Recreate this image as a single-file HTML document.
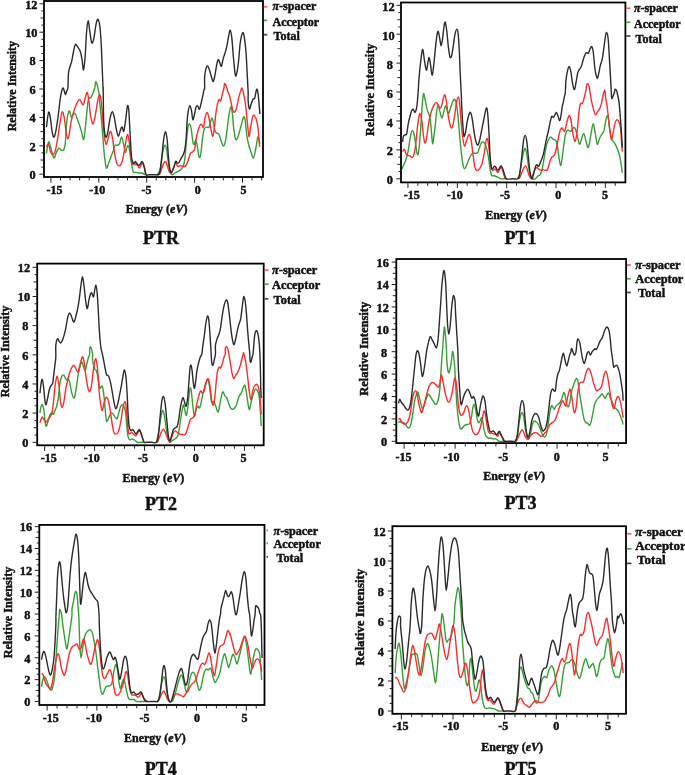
<!DOCTYPE html><html><head><meta charset="utf-8"><style>html,body{margin:0;padding:0;background:#fff;width:685px;height:775px;overflow:hidden}svg{display:block}#w{will-change:transform;width:685px;height:775px}text{font-family:"Liberation Serif",serif;font-weight:bold;fill:#111;stroke:#111;stroke-width:0.45px}</style></head><body>
<div id="w"><svg width="685" height="775" viewBox="0 0 685 775">
<g><clipPath id="c0"><rect x="44.0" y="1.0" width="219.0" height="176.0"/></clipPath><path d="M46.45 153.40 C46.81 151.49 47.90 143.05 48.58 141.96 C49.26 140.87 49.67 144.19 50.54 146.86 C51.41 149.53 52.86 157.03 53.81 157.98 C54.76 158.93 55.39 154.22 56.26 152.58 C57.13 150.95 58.22 148.58 59.04 148.17 C59.86 147.76 60.40 149.86 61.17 150.13 C61.93 150.40 62.94 150.89 63.62 149.80 C64.30 148.71 64.71 148.44 65.26 143.59 C65.80 138.74 66.21 126.15 66.89 120.70 C67.57 115.25 68.58 111.44 69.34 110.89 C70.11 110.35 70.79 116.89 71.47 117.43 C72.15 117.98 72.83 114.84 73.43 114.16 C74.03 113.48 74.52 112.80 75.07 113.34 C75.61 113.89 76.02 115.66 76.70 117.43 C77.38 119.20 78.34 121.52 79.15 123.97 C79.97 126.42 80.87 129.56 81.61 132.15 C82.34 134.73 82.97 140.05 83.57 139.50 C84.17 138.96 84.66 133.37 85.20 128.88 C85.75 124.38 86.29 117.57 86.84 112.53 C87.38 107.48 87.85 101.08 88.47 98.63 C89.10 96.18 89.89 98.63 90.60 97.81 C91.31 96.99 92.04 95.36 92.72 93.72 C93.41 92.09 94.14 90.00 94.69 88.00 C95.23 86.00 95.31 81.08 95.99 81.75 C96.68 82.43 98.17 88.83 98.77 92.05 C99.37 95.27 99.18 96.85 99.59 101.08 C100.00 105.31 100.68 111.44 101.23 117.43 C101.77 123.43 102.32 130.51 102.86 137.05 C103.41 143.59 103.90 151.49 104.50 156.67 C105.10 161.85 105.78 167.03 106.46 168.12 C107.14 169.21 107.82 165.12 108.58 163.21 C109.35 161.30 110.22 158.85 111.04 156.67 C111.85 154.49 112.81 152.04 113.49 150.13 C114.17 148.22 114.44 146.04 115.12 145.23 C115.81 144.41 116.84 145.50 117.58 145.23 C118.31 144.95 118.86 144.95 119.54 143.59 C120.22 142.23 120.96 136.78 121.66 137.05 C122.37 137.32 123.16 142.64 123.79 145.23 C124.42 147.82 124.83 152.45 125.42 152.58 C126.02 152.72 126.79 146.86 127.39 146.04 C127.99 145.23 128.48 145.64 129.02 147.68 C129.57 149.72 129.98 154.36 130.66 158.31 C131.34 162.26 132.29 169.07 133.11 171.39 C133.93 173.70 134.61 171.93 135.56 172.20 C136.52 172.48 137.74 172.89 138.83 173.02 C139.92 173.16 141.01 172.73 142.10 173.02 C143.19 173.32 144.28 174.50 145.37 174.80 M148.64 174.80 M152.00 174.80 M156.91 174.80 C158.13 174.23 158.68 173.05 159.36 171.39 C160.04 169.73 160.37 168.39 160.99 164.85 C161.62 161.30 162.44 153.40 163.12 150.13 C163.80 146.86 164.48 145.23 165.08 145.23 C165.68 145.23 166.17 147.13 166.72 150.13 C167.26 153.13 167.75 159.53 168.35 163.21 C168.95 166.89 169.63 170.27 170.31 172.20 C170.99 174.14 171.67 174.66 172.44 174.80 C173.20 174.94 173.94 173.59 174.89 173.02 C175.84 172.45 177.21 171.93 178.16 171.39 C179.11 170.84 179.80 170.57 180.61 169.75 C181.43 168.93 182.38 168.12 183.07 166.48 C183.75 164.85 184.16 164.03 184.70 159.94 C185.25 155.85 185.79 147.41 186.34 141.96 C186.88 136.51 187.43 130.24 187.97 127.24 C188.52 124.24 189.06 123.70 189.61 123.97 C190.15 124.24 190.70 125.88 191.24 128.88 C191.79 131.87 192.39 139.37 192.88 141.96 C193.37 144.55 193.69 144.68 194.18 144.41 C194.67 144.14 195.27 139.91 195.82 140.32 C196.36 140.73 196.99 144.41 197.45 146.86 C197.92 149.31 198.19 153.27 198.60 155.04 C199.01 156.81 199.50 158.03 199.91 157.49 C200.32 156.94 200.59 155.17 201.05 151.77 C201.51 148.36 202.14 140.87 202.69 137.05 C203.23 133.24 203.64 130.51 204.32 128.88 C205.00 127.24 205.96 127.57 206.77 127.24 C207.59 126.91 208.41 128.41 209.23 126.91 C210.04 125.42 211.00 119.01 211.68 118.25 C212.36 117.49 212.77 120.29 213.31 122.34 C213.86 124.38 214.40 128.74 214.95 130.51 C215.49 132.28 215.90 132.28 216.58 132.96 C217.27 133.64 218.22 133.10 219.04 134.60 C219.85 136.10 220.73 140.05 221.49 141.96 C222.25 143.86 222.93 146.32 223.61 146.04 C224.30 145.77 224.98 143.18 225.58 140.32 C226.18 137.46 226.67 132.96 227.21 128.88 C227.76 124.79 228.25 119.47 228.85 115.80 C229.45 112.12 230.21 107.08 230.81 106.80 C231.41 106.53 231.95 110.48 232.44 114.16 C232.93 117.84 233.21 124.65 233.75 128.88 C234.30 133.10 235.03 138.14 235.71 139.50 C236.40 140.87 237.08 138.82 237.84 137.05 C238.60 135.28 239.34 132.20 240.29 128.88 C241.25 125.55 242.74 118.47 243.56 117.10 C244.38 115.74 244.65 117.65 245.20 120.70 C245.74 123.75 246.23 131.33 246.83 135.42 C247.43 139.50 248.11 142.50 248.79 145.23 C249.48 147.95 250.16 149.64 250.92 151.77 C251.68 153.89 252.55 158.52 253.37 157.98 C254.19 157.43 255.06 151.98 255.82 148.50 C256.59 145.01 257.27 137.87 257.95 137.05 C258.63 136.23 259.59 142.50 259.91 143.59" fill="none" stroke="#33a033" stroke-width="1.4" stroke-linejoin="round" clip-path="url(#c0)"/><path d="M46.45 146.86 C46.81 146.45 47.90 143.59 48.58 144.41 C49.26 145.23 49.80 150.05 50.54 151.77 C51.28 153.48 52.18 154.98 52.99 154.71 C53.81 154.44 54.63 153.07 55.45 150.13 C56.26 147.19 57.08 141.96 57.90 137.05 C58.72 132.15 59.61 124.92 60.35 120.70 C61.09 116.48 61.63 111.98 62.31 111.71 C62.99 111.44 63.81 115.66 64.44 119.07 C65.06 122.47 65.53 128.88 66.07 132.15 C66.62 135.42 67.16 138.41 67.71 138.69 C68.25 138.96 68.80 136.51 69.34 133.78 C69.89 131.06 70.30 125.88 70.98 122.34 C71.66 118.79 72.48 115.66 73.43 112.53 C74.38 109.39 75.67 105.71 76.70 103.53 C77.74 101.35 78.77 99.45 79.64 99.45 C80.52 99.45 81.28 102.72 81.93 103.53 C82.59 104.35 82.94 105.58 83.57 104.35 C84.19 103.12 85.07 98.14 85.69 96.18 C86.32 94.21 86.78 91.76 87.33 92.58 C87.87 93.40 88.42 97.21 88.96 101.08 C89.51 104.95 89.92 111.98 90.60 115.80 C91.28 119.61 92.23 124.24 93.05 123.97 C93.87 123.70 94.74 117.98 95.50 114.16 C96.27 110.35 96.95 104.35 97.63 101.08 C98.31 97.81 98.99 94.54 99.59 94.54 C100.19 94.54 100.68 96.72 101.23 101.08 C101.77 105.44 102.32 114.71 102.86 120.70 C103.41 126.70 103.95 133.10 104.50 137.05 C105.04 141.00 105.53 144.14 106.13 144.41 C106.73 144.68 107.41 140.87 108.09 138.69 C108.77 136.51 109.51 131.60 110.22 131.33 C110.93 131.06 111.66 133.64 112.34 137.05 C113.03 140.46 113.57 147.41 114.31 151.77 C115.04 156.13 116.00 160.90 116.76 163.21 C117.52 165.53 118.20 165.39 118.88 165.66 C119.57 165.94 120.11 166.35 120.85 164.85 C121.58 163.35 122.48 160.49 123.30 156.67 C124.12 152.86 125.07 145.64 125.75 141.96 C126.43 138.28 126.84 134.87 127.39 134.60 C127.93 134.33 128.48 137.19 129.02 140.32 C129.57 143.45 130.11 149.59 130.66 153.40 C131.20 157.22 131.61 161.30 132.29 163.21 C132.97 165.12 133.93 164.85 134.74 164.85 C135.56 164.85 136.46 162.67 137.20 163.21 C137.93 163.76 138.48 167.84 139.16 168.12 C139.84 168.39 140.66 165.80 141.28 164.85 C141.91 163.89 142.37 161.85 142.92 162.39 C143.46 162.94 144.01 166.05 144.55 168.12 C145.10 170.18 144.95 173.69 146.19 174.80 M152.00 174.80 M156.91 174.80 M159.36 174.80 C160.18 173.69 161.07 170.05 161.81 168.12 C162.55 166.19 163.15 164.30 163.77 163.21 C164.40 162.12 164.94 161.03 165.57 161.58 C166.20 162.12 166.93 164.85 167.53 166.48 C168.13 168.12 168.54 170.30 169.17 171.39 C169.79 172.48 170.61 173.57 171.29 173.02 C171.97 172.48 172.52 169.75 173.26 168.12 C173.99 166.48 174.95 163.48 175.71 163.21 C176.47 162.94 177.10 166.07 177.83 166.48 C178.57 166.89 179.39 165.72 180.12 165.66 C180.86 165.61 181.49 166.02 182.25 166.15 C183.01 166.29 184.02 166.70 184.70 166.48 C185.38 166.26 185.74 165.94 186.34 164.85 C186.94 163.76 187.62 161.85 188.30 159.94 C188.98 158.03 189.66 154.76 190.42 153.40 C191.19 152.04 192.14 152.58 192.88 151.77 C193.61 150.95 194.29 150.68 194.84 148.50 C195.38 146.32 195.60 141.68 196.15 138.69 C196.69 135.69 197.43 132.83 198.11 130.51 C198.79 128.19 199.61 125.74 200.23 124.79 C200.86 123.83 201.32 124.38 201.87 124.79 C202.41 125.20 202.96 128.47 203.50 127.24 C204.05 126.01 204.51 119.88 205.14 117.43 C205.77 114.98 206.58 112.25 207.26 112.53 C207.95 112.80 208.63 116.34 209.23 119.07 C209.83 121.79 210.26 126.01 210.86 128.88 C211.46 131.74 212.22 136.51 212.82 136.23 C213.42 135.96 213.97 130.92 214.46 127.24 C214.95 123.56 215.28 117.98 215.77 114.16 C216.26 110.35 216.86 106.80 217.40 104.35 C217.95 101.90 218.49 99.99 219.04 99.45 C219.58 98.90 220.13 101.90 220.67 101.08 C221.22 100.26 221.76 96.72 222.31 94.54 C222.85 92.36 223.53 89.86 223.94 88.00 C224.35 86.14 224.27 83.34 224.76 83.39 C225.25 83.44 226.34 86.85 226.88 88.29 C227.43 89.74 227.57 90.74 228.03 92.05 C228.49 93.37 228.98 93.58 229.66 96.18 C230.35 98.77 231.44 104.95 232.12 107.62 C232.80 110.29 233.07 111.93 233.75 112.20 C234.43 112.47 235.39 111.65 236.20 109.26 C237.02 106.86 237.84 101.08 238.66 97.81 C239.47 94.54 240.56 91.27 241.11 89.64 C241.65 88.00 241.57 87.60 241.93 88.00 C242.28 88.40 242.64 89.33 243.24 92.05 C243.83 94.78 244.87 99.58 245.52 104.35 C246.18 109.13 246.67 115.93 247.16 120.70 C247.65 125.47 248.11 130.37 248.47 132.96 C248.82 135.55 248.88 137.46 249.28 136.23 C249.69 135.01 250.29 129.01 250.92 125.61 C251.55 122.20 252.36 117.29 253.05 115.80 C253.73 114.30 254.41 115.80 255.01 116.61 C255.61 117.43 256.10 118.38 256.64 120.70 C257.19 123.02 257.79 126.15 258.28 130.51 C258.77 134.87 259.37 144.14 259.59 146.86" fill="none" stroke="#ff2a2a" stroke-width="1.4" stroke-linejoin="round" clip-path="url(#c0)"/><path d="M46.45 127.24 C46.81 124.73 47.90 113.56 48.58 112.20 C49.26 110.84 49.94 115.74 50.54 119.07 C51.14 122.39 51.58 129.15 52.18 132.15 C52.77 135.14 53.46 137.60 54.14 137.05 C54.82 136.51 55.55 132.69 56.26 128.88 C56.97 125.06 57.71 119.34 58.39 114.16 C59.07 108.98 59.75 101.84 60.35 97.81 C60.95 93.78 61.49 91.60 61.99 89.96 C62.48 88.33 62.88 87.73 63.29 88.00 C63.70 88.27 64.06 90.51 64.44 91.60 C64.82 92.69 65.17 94.73 65.58 94.54 C65.99 94.35 66.51 91.54 66.89 90.45 C67.27 89.36 67.60 90.95 67.87 88.00 C68.14 85.05 68.14 76.39 68.53 72.76 C68.91 69.13 69.62 68.21 70.16 66.22 C70.71 64.23 71.25 63.19 71.80 60.82 C72.34 58.45 72.83 54.72 73.43 51.99 C74.03 49.27 74.66 45.29 75.39 44.47 C76.13 43.66 77.03 45.92 77.85 47.09 C78.66 48.26 79.62 49.54 80.30 51.50 C80.98 53.47 81.39 55.78 81.93 58.86 C82.48 61.94 83.02 70.52 83.57 69.98 C84.11 69.43 84.71 61.80 85.20 55.59 C85.69 49.38 86.02 38.48 86.51 32.70 C87.00 26.92 87.60 21.20 88.15 20.93 C88.69 20.66 89.18 27.41 89.78 31.07 C90.38 34.72 91.06 41.61 91.74 42.84 C92.42 44.06 93.16 41.48 93.87 38.42 C94.58 35.37 95.31 27.71 95.99 24.53 C96.68 21.34 97.30 18.88 97.96 19.29 C98.61 19.70 99.37 22.84 99.92 26.98 C100.46 31.12 100.82 36.65 101.23 44.15 C101.64 51.64 102.04 63.96 102.37 71.94 C102.70 79.93 103.05 89.38 103.19 92.05 C103.32 94.73 103.11 83.23 103.19 88.00 C103.27 92.77 103.41 113.07 103.68 120.70 C103.95 128.33 104.36 131.06 104.82 133.78 C105.29 136.51 105.91 137.60 106.46 137.05 C107.00 136.51 107.47 133.78 108.09 130.51 C108.72 127.24 109.51 120.56 110.22 117.43 C110.93 114.30 111.66 111.71 112.34 111.71 C113.03 111.71 113.65 114.57 114.31 117.43 C114.96 120.29 115.59 125.74 116.27 128.88 C116.95 132.01 117.69 136.10 118.39 136.23 C119.10 136.37 119.89 131.25 120.52 129.69 C121.15 128.14 121.61 126.64 122.15 126.91 C122.70 127.19 123.19 132.64 123.79 131.33 C124.39 130.02 125.15 123.24 125.75 119.07 C126.35 114.90 126.90 107.95 127.39 106.31 C127.88 104.68 128.29 105.49 128.69 109.26 C129.10 113.02 129.38 120.97 129.84 128.88 C130.30 136.78 130.85 150.95 131.47 156.67 C132.10 162.39 132.92 162.39 133.60 163.21 C134.28 164.03 134.96 161.30 135.56 161.58 C136.16 161.85 136.52 164.30 137.20 164.85 C137.88 165.39 138.83 165.39 139.65 164.85 C140.47 164.30 141.37 161.30 142.10 161.58 C142.84 161.85 143.38 164.28 144.06 166.48 C144.75 168.69 145.43 173.41 146.19 174.80 C146.95 176.19 147.01 174.80 148.64 174.80 C150.28 174.80 154.35 174.80 156.00 174.80 C157.65 174.80 157.84 175.51 158.54 174.80 C159.24 174.09 159.63 173.59 160.18 170.57 C160.72 167.55 161.21 161.99 161.81 156.67 C162.41 151.36 163.15 142.83 163.77 138.69 C164.40 134.54 165.00 131.55 165.57 131.82 C166.14 132.09 166.69 135.63 167.21 140.32 C167.72 145.01 168.16 154.76 168.68 159.94 C169.20 165.12 169.82 169.34 170.31 171.39 C170.80 173.43 171.08 172.75 171.62 172.20 C172.17 171.66 172.90 169.94 173.58 168.12 C174.26 166.29 175.08 162.07 175.71 161.25 C176.33 160.43 176.80 163.02 177.34 163.21 C177.89 163.40 178.35 163.21 178.98 162.39 C179.60 161.58 180.42 159.53 181.10 158.31 C181.78 157.08 182.47 156.40 183.07 155.04 C183.67 153.67 184.21 152.58 184.70 150.13 C185.19 147.68 185.60 145.23 186.01 140.32 C186.42 135.42 186.77 125.61 187.15 120.70 C187.53 115.80 187.83 113.40 188.30 110.89 C188.76 108.38 189.39 105.66 189.93 105.66 C190.48 105.66 191.08 108.52 191.57 110.89 C192.06 113.26 192.33 119.61 192.88 119.88 C193.42 120.16 194.29 114.71 194.84 112.53 C195.38 110.35 195.66 107.89 196.15 106.80 C196.64 105.71 197.24 105.58 197.78 105.99 C198.33 106.39 198.87 109.66 199.42 109.26 C199.96 108.85 200.51 105.71 201.05 103.53 C201.60 101.35 202.20 98.49 202.69 96.18 C203.18 93.86 203.67 91.00 203.99 89.64 C204.32 88.27 204.54 90.13 204.65 88.00 C204.76 85.87 204.43 80.07 204.65 76.85 C204.87 73.63 205.47 70.50 205.96 68.67 C206.45 66.85 206.99 65.62 207.59 65.89 C208.19 66.16 208.87 68.34 209.55 70.31 C210.23 72.27 211.05 75.81 211.68 77.66 C212.31 79.52 212.77 81.83 213.31 81.42 C213.86 81.02 214.40 77.88 214.95 75.21 C215.49 72.54 216.04 67.99 216.58 65.40 C217.13 62.81 217.67 60.09 218.22 59.68 C218.76 59.27 219.31 61.86 219.85 62.95 C220.40 64.04 220.94 66.90 221.49 66.22 C222.03 65.54 222.50 61.18 223.12 58.86 C223.75 56.55 224.62 54.50 225.25 52.32 C225.88 50.14 226.34 48.37 226.88 45.78 C227.43 43.19 227.97 39.38 228.52 36.79 C229.06 34.20 229.61 30.11 230.15 30.25 C230.70 30.38 231.24 33.11 231.79 37.61 C232.33 42.10 232.83 50.96 233.42 57.23 C234.02 63.49 234.79 72.76 235.39 75.21 C235.99 77.66 236.48 74.39 237.02 71.94 C237.57 69.49 238.11 65.40 238.66 60.50 C239.20 55.59 239.61 47.14 240.29 42.51 C240.97 37.88 242.06 33.52 242.74 32.70 C243.43 31.88 243.83 34.34 244.38 37.61 C244.92 40.88 245.55 46.33 246.01 52.32 C246.48 58.32 246.80 66.95 247.16 73.58 C247.51 80.20 247.98 87.47 248.14 92.05 C248.30 96.64 247.92 98.27 248.14 101.08 C248.36 103.89 248.96 108.38 249.45 108.93 C249.94 109.47 250.48 105.99 251.08 104.35 C251.68 102.72 252.45 100.15 253.05 99.12 C253.64 98.08 254.08 99.77 254.68 98.14 C255.28 96.50 256.10 90.18 256.64 89.31 C257.19 88.44 257.54 90.40 257.95 92.91 C258.36 95.41 258.77 100.81 259.09 104.35 C259.42 107.89 259.78 112.53 259.91 114.16" fill="none" stroke="#2b2b2b" stroke-width="1.4" stroke-linejoin="round" clip-path="url(#c0)"/><rect x="44.0" y="1.0" width="219.0" height="176.0" fill="none" stroke="#000" stroke-width="1.8"/><path d="M39.4 174.20H44.0M41.4 167.10H44.0M40.4 160.00H44.0M41.4 152.90H44.0M39.4 145.80H44.0M41.4 138.70H44.0M40.4 131.60H44.0M41.4 124.50H44.0M39.4 117.40H44.0M41.4 110.30H44.0M40.4 103.20H44.0M41.4 96.10H44.0M39.4 89.00H44.0M41.4 81.90H44.0M40.4 74.80H44.0M41.4 67.70H44.0M39.4 60.60H44.0M41.4 53.50H44.0M40.4 46.40H44.0M41.4 39.30H44.0M39.4 32.20H44.0M41.4 25.10H44.0M40.4 18.00H44.0M41.4 10.90H44.0M39.4 3.80H44.0M50.90 177.0V182.6M60.48 177.0V180.4M70.06 177.0V180.4M79.64 177.0V180.4M89.22 177.0V180.4M98.80 177.0V182.6M108.38 177.0V180.4M117.96 177.0V180.4M127.54 177.0V180.4M137.12 177.0V180.4M146.70 177.0V182.6M156.28 177.0V180.4M165.86 177.0V180.4M175.44 177.0V180.4M185.02 177.0V180.4M194.60 177.0V182.6M204.18 177.0V180.4M213.76 177.0V180.4M223.34 177.0V180.4M232.92 177.0V180.4M242.50 177.0V182.6M252.08 177.0V180.4M261.66 177.0V180.4" stroke="#222" stroke-width="1" fill="none"/><text x="32.7" y="178.9" font-size="12.3" text-anchor="middle">0</text><text x="32.7" y="150.5" font-size="12.3" text-anchor="middle">2</text><text x="32.7" y="122.1" font-size="12.3" text-anchor="middle">4</text><text x="32.7" y="93.7" font-size="12.3" text-anchor="middle">6</text><text x="32.7" y="65.3" font-size="12.3" text-anchor="middle">8</text><text x="31.3" y="36.9" font-size="12.3" text-anchor="middle">10</text><text x="31.3" y="8.5" font-size="12.3" text-anchor="middle">12</text><text x="54.6" y="193.7" font-size="12" text-anchor="middle">-15</text><text x="97.2" y="193.7" font-size="12" text-anchor="middle">-10</text><text x="146.4" y="193.7" font-size="12" text-anchor="middle">-5</text><text x="197.8" y="193.7" font-size="12" text-anchor="middle">0</text><text x="243.5" y="193.7" font-size="12" text-anchor="middle">5</text><text transform="translate(12.2 86.2) rotate(-90)" font-size="12.00" text-anchor="middle" dominant-baseline="central">Relative Intensity</text><text x="156.6" y="212.5" font-size="12" text-anchor="middle">Energy (<tspan font-style="italic">eV</tspan>)</text><text x="161.1" y="243.6" font-size="18" text-anchor="middle">PTR</text><path d="M263.9 6.7H267.3" stroke="#ff5a5a" stroke-width="1.7"/><path d="M263.9 20.4H267.3" stroke="#4aa84a" stroke-width="1.7"/><path d="M263.9 34.7H267.3" stroke="#444" stroke-width="1.7"/><text x="272.5" y="10.2" font-size="12"><tspan font-style="italic">&#960;</tspan>-spacer</text><text x="272.5" y="25.5" font-size="12">Acceptor</text><text x="273.5" y="40.0" font-size="12">Total</text></g>
<g><clipPath id="c1"><rect x="401.0" y="2.5" width="224.4" height="179.9"/></clipPath><path d="M401.82 168.85 C402.09 168.30 402.83 166.94 403.45 165.58 C404.08 164.21 404.90 162.58 405.58 160.67 C406.26 158.76 406.94 156.86 407.54 154.13 C408.14 151.41 408.63 147.59 409.18 144.32 C409.72 141.05 410.27 136.83 410.81 134.51 C411.36 132.19 411.90 130.42 412.45 130.42 C412.99 130.42 413.54 132.19 414.08 134.51 C414.63 136.83 415.22 141.19 415.72 144.32 C416.21 147.45 416.61 151.68 417.02 153.31 C417.43 154.95 417.79 155.36 418.17 154.13 C418.55 152.91 418.85 150.86 419.31 145.96 C419.78 141.05 420.46 131.51 420.95 124.70 C421.44 117.89 421.82 110.26 422.26 105.08 C422.69 99.90 423.07 94.45 423.56 93.64 C424.05 92.82 424.65 97.72 425.20 100.18 C425.74 102.63 426.29 106.17 426.83 108.35 C427.38 110.53 427.92 111.62 428.47 113.26 C429.01 114.89 429.64 115.44 430.10 118.16 C430.57 120.89 430.84 125.38 431.25 129.61 C431.66 133.83 432.15 142.14 432.56 143.50 C432.96 144.87 433.24 140.91 433.70 137.78 C434.16 134.65 434.85 129.06 435.34 124.70 C435.83 120.34 436.15 114.89 436.64 111.62 C437.13 108.35 437.73 105.08 438.28 105.08 C438.82 105.08 439.31 109.44 439.91 111.62 C440.51 113.80 441.22 118.16 441.88 118.16 C442.53 118.16 443.24 113.66 443.84 111.62 C444.44 109.58 444.93 106.17 445.47 105.90 C446.02 105.63 446.56 108.76 447.11 109.99 C447.65 111.21 448.12 113.80 448.74 113.26 C449.37 112.71 450.16 108.76 450.87 106.72 C451.58 104.67 452.37 102.22 452.99 100.99 C453.62 99.77 454.08 98.95 454.63 99.36 C455.17 99.77 455.72 100.86 456.26 103.45 C456.81 106.03 457.35 109.71 457.90 114.89 C458.44 120.07 458.93 127.97 459.53 134.51 C460.13 141.05 460.90 148.95 461.50 154.13 C462.10 159.31 462.59 163.12 463.13 165.58 C463.68 168.03 464.22 168.85 464.77 168.85 C465.31 168.85 465.80 166.94 466.40 165.58 C467.00 164.21 467.68 162.31 468.36 160.67 C469.04 159.04 469.78 156.99 470.49 155.77 C471.20 154.54 471.80 153.72 472.61 153.31 C473.43 152.91 474.52 153.45 475.39 153.31 C476.27 153.18 477.17 153.45 477.85 152.50 C478.53 151.54 478.88 149.23 479.48 147.59 C480.08 145.96 480.84 143.64 481.44 142.69 C482.04 141.73 482.45 141.60 483.08 141.87 C483.71 142.14 484.58 143.09 485.20 144.32 C485.83 145.55 486.29 147.05 486.84 149.23 C487.38 151.41 487.93 154.13 488.47 157.40 C489.02 160.67 489.56 165.85 490.11 168.85 C490.65 171.84 491.06 174.24 491.74 175.39 C492.43 176.53 493.24 175.44 494.20 175.71 C495.15 175.99 496.38 176.51 497.47 177.02 C498.56 177.54 499.65 178.50 500.74 178.80 C501.83 179.10 502.92 178.80 504.01 178.80 C505.10 178.80 505.61 178.80 507.28 178.80 M514.00 178.80 M517.27 178.80 C518.22 177.96 518.96 176.77 519.72 173.75 C520.49 170.73 521.22 164.21 521.85 160.67 C522.47 157.13 522.94 154.54 523.48 152.50 C524.03 150.45 524.57 148.14 525.12 148.41 C525.66 148.68 526.21 151.27 526.75 154.13 C527.30 156.99 527.79 162.03 528.39 165.58 C528.99 169.12 529.70 173.18 530.35 175.39 C531.00 177.59 531.49 178.23 532.31 178.80 C533.13 179.37 534.36 179.23 535.26 178.80 C536.15 178.37 536.89 176.91 537.71 176.20 C538.53 175.50 539.48 175.52 540.16 174.57 C540.84 173.62 541.25 172.53 541.80 170.48 C542.34 168.44 542.89 165.30 543.43 162.31 C543.98 159.31 544.52 155.49 545.07 152.50 C545.61 149.50 546.10 146.50 546.70 144.32 C547.30 142.14 547.98 140.64 548.66 139.42 C549.34 138.19 550.03 136.96 550.79 136.96 C551.55 136.96 552.42 138.87 553.24 139.42 C554.06 139.96 555.01 139.14 555.69 140.23 C556.37 141.32 556.87 143.64 557.33 145.96 C557.79 148.27 557.93 150.86 558.47 154.13 C559.02 157.40 559.97 165.03 560.60 165.58 C561.23 166.12 561.69 160.94 562.23 157.40 C562.78 153.86 563.32 148.14 563.87 144.32 C564.41 140.51 564.96 136.83 565.50 134.51 C566.05 132.19 566.59 131.10 567.14 130.42 C567.68 129.74 568.15 130.29 568.77 130.42 C569.40 130.56 570.27 131.51 570.90 131.24 C571.53 130.97 571.93 129.39 572.53 128.79 C573.13 128.19 573.90 127.24 574.50 127.64 C575.10 128.05 575.53 129.28 576.13 131.24 C576.73 133.20 577.49 137.24 578.09 139.42 C578.69 141.60 579.10 144.59 579.73 144.32 C580.36 144.05 581.15 139.55 581.85 137.78 C582.56 136.01 583.30 133.15 583.98 133.69 C584.66 134.24 585.29 138.73 585.94 141.05 C586.60 143.37 587.30 147.32 587.90 147.59 C588.50 147.86 588.99 145.14 589.54 142.69 C590.08 140.23 590.57 136.01 591.17 132.88 C591.77 129.74 592.51 124.16 593.14 123.88 C593.76 123.61 594.36 128.38 594.93 131.24 C595.51 134.10 596.11 138.87 596.57 141.05 C597.03 143.23 597.17 144.87 597.71 144.32 C598.26 143.78 599.08 139.55 599.84 137.78 C600.60 136.01 601.56 135.06 602.29 133.69 C603.03 132.33 603.65 131.92 604.25 129.61 C604.85 127.29 605.40 122.11 605.89 119.80 C606.38 117.48 606.76 115.71 607.20 115.71 C607.63 115.71 608.01 116.93 608.51 119.80 C609.00 122.66 609.60 129.61 610.14 132.88 C610.69 136.15 611.18 137.92 611.78 139.42 C612.37 140.91 613.08 140.91 613.74 141.87 C614.39 142.82 615.02 143.78 615.70 145.14 C616.38 146.50 617.12 148.00 617.82 150.04 C618.53 152.09 619.41 155.09 619.95 157.40 C620.50 159.72 620.71 161.35 621.09 163.94 C621.48 166.53 622.05 171.44 622.24 172.93" fill="none" stroke="#33a033" stroke-width="1.4" stroke-linejoin="round" clip-path="url(#c1)"/><path d="M402.64 151.68 C402.91 151.27 403.73 148.95 404.27 149.23 C404.82 149.50 405.36 152.28 405.91 153.31 C406.45 154.35 406.86 155.03 407.54 155.44 C408.22 155.85 409.23 155.44 409.99 155.77 C410.76 156.09 411.44 157.67 412.12 157.40 C412.80 157.13 413.48 156.31 414.08 154.13 C414.68 151.95 415.17 148.68 415.72 144.32 C416.26 139.96 416.81 132.60 417.35 127.97 C417.90 123.34 418.49 118.84 418.99 116.53 C419.48 114.21 419.80 113.26 420.29 114.07 C420.78 114.89 421.47 118.30 421.93 121.43 C422.39 124.56 422.61 129.33 423.07 132.88 C423.54 136.42 424.16 141.60 424.71 142.69 C425.25 143.78 425.80 141.87 426.34 139.42 C426.89 136.96 427.43 131.51 427.98 127.97 C428.52 124.43 428.93 121.29 429.61 118.16 C430.29 115.03 431.25 111.48 432.07 109.17 C432.88 106.85 433.76 105.35 434.52 104.26 C435.28 103.17 435.96 102.36 436.64 102.63 C437.33 102.90 438.01 104.94 438.61 105.90 C439.21 106.85 439.70 108.49 440.24 108.35 C440.79 108.21 441.33 106.85 441.88 105.08 C442.42 103.31 443.02 99.41 443.51 97.72 C444.00 96.03 444.33 94.26 444.82 94.94 C445.31 95.62 445.91 98.49 446.45 101.81 C447.00 105.13 447.49 111.08 448.09 114.89 C448.69 118.71 449.45 122.52 450.05 124.70 C450.65 126.88 451.14 128.24 451.69 127.97 C452.23 127.70 452.78 125.52 453.32 123.07 C453.87 120.61 454.41 116.80 454.96 113.26 C455.50 109.71 456.05 104.54 456.59 101.81 C457.14 99.09 457.74 96.91 458.23 96.91 C458.72 96.91 459.13 98.54 459.53 101.81 C459.94 105.08 460.22 111.08 460.68 116.53 C461.14 121.98 461.69 129.61 462.31 134.51 C462.94 139.42 463.76 144.87 464.44 145.96 C465.12 147.05 465.80 142.69 466.40 141.05 C467.00 139.42 467.49 137.18 468.04 136.15 C468.58 135.11 469.13 134.02 469.67 134.84 C470.22 135.66 470.76 137.84 471.31 141.05 C471.85 144.27 472.34 149.77 472.94 154.13 C473.54 158.49 474.22 164.49 474.90 167.21 C475.58 169.94 476.27 170.21 477.03 170.48 C477.79 170.75 478.66 169.94 479.48 168.85 C480.30 167.76 481.12 166.67 481.93 163.94 C482.75 161.22 483.71 156.31 484.39 152.50 C485.07 148.68 485.53 143.37 486.02 141.05 C486.51 138.73 486.92 138.05 487.33 138.60 C487.74 139.14 488.01 141.19 488.47 144.32 C488.94 147.45 489.65 153.59 490.11 157.40 C490.57 161.22 490.85 165.03 491.25 167.21 C491.66 169.39 491.94 170.21 492.56 170.48 C493.19 170.75 494.33 168.71 495.01 168.85 C495.70 168.98 496.10 170.75 496.65 171.30 C497.19 171.84 497.74 172.53 498.28 172.12 C498.83 171.71 499.37 169.61 499.92 168.85 C500.46 168.08 501.01 166.99 501.55 167.54 C502.10 168.08 502.51 170.24 503.19 172.12 C503.87 173.99 504.01 177.69 505.64 178.80 M513.00 178.80 M518.91 178.80 C520.30 177.96 520.59 175.41 521.36 173.75 C522.12 172.09 522.80 170.15 523.48 168.85 C524.16 167.54 524.85 165.90 525.45 165.90 C526.04 165.90 526.48 167.27 527.08 168.85 C527.68 170.43 528.36 173.73 529.04 175.39 C529.72 177.05 530.46 179.07 531.17 178.80 C531.88 178.53 532.61 175.41 533.29 173.75 C533.97 172.09 534.66 169.88 535.26 168.85 C535.85 167.81 536.29 167.48 536.89 167.54 C537.49 167.59 538.17 168.68 538.85 169.17 C539.53 169.66 540.22 170.40 540.98 170.48 C541.74 170.56 542.61 169.66 543.43 169.66 C544.25 169.66 545.20 170.48 545.88 170.48 C546.56 170.48 546.97 170.75 547.52 169.66 C548.06 168.57 548.61 165.71 549.15 163.94 C549.70 162.17 550.24 160.26 550.79 159.04 C551.33 157.81 551.80 157.27 552.42 156.58 C553.05 155.90 553.92 156.18 554.55 154.95 C555.18 153.72 555.64 151.54 556.18 149.23 C556.73 146.91 557.27 143.78 557.82 141.05 C558.36 138.33 558.85 135.06 559.45 132.88 C560.05 130.70 560.82 128.52 561.42 127.97 C562.02 127.43 562.51 129.06 563.05 129.61 C563.60 130.15 564.14 132.06 564.69 131.24 C565.23 130.42 565.78 126.88 566.32 124.70 C566.87 122.52 567.41 119.66 567.96 118.16 C568.50 116.66 569.05 115.16 569.59 115.71 C570.14 116.25 570.74 118.84 571.23 121.43 C571.72 124.02 572.04 128.24 572.53 131.24 C573.02 134.24 573.71 137.78 574.17 139.42 C574.63 141.05 574.85 142.14 575.31 141.05 C575.78 139.96 576.49 136.15 576.95 132.88 C577.41 129.61 577.68 125.52 578.09 121.43 C578.50 117.34 578.97 111.35 579.40 108.35 C579.84 105.35 580.22 104.26 580.71 103.45 C581.20 102.63 581.80 104.26 582.34 103.45 C582.89 102.63 583.43 100.45 583.98 98.54 C584.52 96.63 585.15 94.25 585.61 92.00 C586.08 89.75 586.38 86.40 586.76 85.02 C587.14 83.64 587.49 83.44 587.90 83.71 C588.31 83.99 588.86 85.27 589.21 86.66 C589.57 88.05 589.62 89.53 590.03 92.05 C590.44 94.58 590.98 98.55 591.66 101.81 C592.35 105.07 593.44 109.44 594.12 111.62 C594.80 113.80 595.15 114.89 595.75 114.89 C596.35 114.89 597.03 112.71 597.71 111.62 C598.40 110.53 599.21 109.71 599.84 108.35 C600.47 106.99 600.93 105.63 601.47 103.45 C602.02 101.27 602.70 97.18 603.11 95.27 C603.52 93.36 603.65 92.84 603.93 92.00 C604.20 91.16 604.53 90.25 604.74 90.25 C604.96 90.26 605.10 90.94 605.24 92.05 C605.37 93.16 605.24 94.46 605.56 96.91 C605.89 99.35 606.65 102.63 607.20 106.72 C607.74 110.80 608.29 116.80 608.83 121.43 C609.38 126.06 609.98 131.51 610.47 134.51 C610.96 137.51 611.28 139.96 611.78 139.42 C612.27 138.87 612.87 133.97 613.41 131.24 C613.96 128.52 614.50 124.97 615.05 123.07 C615.59 121.16 616.08 120.07 616.68 119.80 C617.28 119.52 618.04 120.34 618.64 121.43 C619.24 122.52 619.87 124.16 620.28 126.34 C620.69 128.52 620.82 130.97 621.09 134.51 C621.37 138.05 621.69 144.73 621.91 147.59 C622.13 150.45 622.32 151.00 622.40 151.68" fill="none" stroke="#ff2a2a" stroke-width="1.4" stroke-linejoin="round" clip-path="url(#c1)"/><path d="M402.64 141.87 C402.77 140.91 403.04 137.32 403.45 136.15 C403.86 134.97 404.54 135.25 405.09 134.84 C405.63 134.43 406.18 135.66 406.72 133.69 C407.27 131.73 407.81 125.93 408.36 123.07 C408.90 120.20 409.45 118.57 409.99 116.53 C410.54 114.48 411.08 112.03 411.63 110.80 C412.17 109.58 412.72 108.90 413.26 109.17 C413.81 109.44 414.35 112.57 414.90 112.44 C415.44 112.30 416.12 110.12 416.53 108.35 C416.94 106.58 417.08 104.54 417.35 101.81 C417.62 99.09 417.90 95.89 418.17 92.00 C418.44 88.11 418.58 83.46 418.99 78.48 C419.39 73.50 420.02 66.98 420.62 62.13 C421.22 57.28 421.98 49.92 422.58 49.38 C423.18 48.83 423.73 55.92 424.22 58.86 C424.71 61.80 425.12 65.18 425.53 67.04 C425.93 68.89 426.26 70.80 426.67 69.98 C427.08 69.16 427.57 64.20 427.98 62.13 C428.39 60.06 428.71 57.28 429.12 57.55 C429.53 57.83 429.94 60.82 430.43 63.77 C430.92 66.71 431.52 74.94 432.07 75.21 C432.61 75.48 433.16 69.76 433.70 65.40 C434.25 61.04 434.79 54.09 435.34 49.05 C435.88 44.01 436.48 38.10 436.97 35.15 C437.46 32.21 437.84 30.98 438.28 31.39 C438.71 31.80 439.12 35.21 439.59 37.61 C440.05 40.00 440.54 45.78 441.06 45.78 C441.58 45.78 442.23 40.60 442.69 37.61 C443.16 34.61 443.43 30.38 443.84 27.80 C444.25 25.21 444.66 21.53 445.15 22.07 C445.64 22.62 446.24 26.84 446.78 31.07 C447.33 35.29 447.87 43.06 448.42 47.42 C448.96 51.78 449.51 55.86 450.05 57.23 C450.60 58.59 451.14 57.50 451.69 55.59 C452.23 53.68 452.78 49.32 453.32 45.78 C453.87 42.24 454.36 37.12 454.96 34.34 C455.56 31.56 456.37 29.10 456.92 29.10 C457.46 29.10 457.82 30.47 458.23 34.34 C458.64 38.21 459.04 45.78 459.37 52.32 C459.70 58.86 459.89 66.95 460.19 73.58 C460.49 80.20 460.90 86.26 461.17 92.05 C461.44 97.85 461.55 102.91 461.82 108.35 C462.10 113.79 462.45 120.07 462.80 124.70 C463.16 129.33 463.49 134.92 463.95 136.15 C464.41 137.37 465.04 134.51 465.58 132.06 C466.13 129.61 466.67 124.29 467.22 121.43 C467.76 118.57 468.31 116.39 468.85 114.89 C469.40 113.39 469.94 111.89 470.49 112.44 C471.03 112.98 471.58 115.30 472.12 118.16 C472.67 121.02 473.21 126.06 473.76 129.61 C474.30 133.15 474.77 136.83 475.39 139.42 C476.02 142.00 476.84 144.87 477.52 145.14 C478.20 145.41 478.88 143.09 479.48 141.05 C480.08 139.01 480.57 135.60 481.12 132.88 C481.66 130.15 482.21 127.43 482.75 124.70 C483.30 121.98 483.79 119.31 484.39 116.53 C484.99 113.75 485.80 108.57 486.35 108.02 C486.89 107.48 487.22 109.11 487.66 113.26 C488.09 117.40 488.56 125.52 488.96 132.88 C489.37 140.23 489.73 151.68 490.11 157.40 C490.49 163.12 490.85 165.30 491.25 167.21 C491.66 169.12 492.07 168.98 492.56 168.85 C493.05 168.71 493.65 166.67 494.20 166.39 C494.74 166.12 495.29 166.58 495.83 167.21 C496.38 167.84 496.92 169.88 497.47 170.15 C498.01 170.43 498.50 169.61 499.10 168.85 C499.70 168.08 500.46 165.58 501.06 165.58 C501.66 165.58 502.15 167.48 502.70 168.85 C503.24 170.21 503.71 172.09 504.33 173.75 C504.96 175.41 505.02 177.96 506.46 178.80 C507.90 179.64 511.06 178.80 513.00 178.80 C514.94 178.80 516.97 179.64 518.09 178.80 C519.21 177.96 519.18 176.77 519.72 173.75 C520.27 170.73 520.73 166.12 521.36 160.67 C521.98 155.22 522.86 145.27 523.48 141.05 C524.11 136.83 524.57 135.33 525.12 135.33 C525.66 135.33 526.21 137.37 526.75 141.05 C527.30 144.73 527.84 152.22 528.39 157.40 C528.93 162.58 529.42 168.55 530.02 172.12 C530.62 175.68 531.39 178.53 531.99 178.80 C532.58 179.07 533.08 175.68 533.62 173.75 C534.17 171.82 534.71 168.71 535.26 167.21 C535.80 165.71 536.35 164.90 536.89 164.76 C537.44 164.62 537.98 166.67 538.53 166.39 C539.07 166.12 539.62 164.35 540.16 163.12 C540.71 161.90 541.25 160.54 541.80 159.04 C542.34 157.54 542.89 156.31 543.43 154.13 C543.98 151.95 544.52 148.68 545.07 145.96 C545.61 143.23 546.16 140.23 546.70 137.78 C547.25 135.33 547.79 133.69 548.34 131.24 C548.88 128.79 549.43 125.52 549.97 123.07 C550.52 120.61 551.06 117.48 551.61 116.53 C552.15 115.57 552.70 117.62 553.24 117.34 C553.79 117.07 554.33 115.71 554.88 114.89 C555.42 114.07 555.97 112.17 556.51 112.44 C557.06 112.71 557.60 115.16 558.15 116.53 C558.69 117.89 559.29 120.89 559.78 120.61 C560.27 120.34 560.68 117.21 561.09 114.89 C561.50 112.57 561.85 108.90 562.23 106.72 C562.62 104.54 562.97 103.72 563.38 101.81 C563.79 99.90 564.36 96.91 564.69 95.27 C565.01 93.64 565.12 94.53 565.34 92.00 C565.56 89.47 565.61 83.73 565.99 80.12 C566.38 76.50 567.08 72.54 567.63 70.31 C568.17 68.07 568.72 66.44 569.26 66.71 C569.81 66.98 570.35 69.16 570.90 71.94 C571.44 74.72 571.93 80.44 572.53 83.39 C573.13 86.33 573.90 89.87 574.50 89.60 C575.10 89.33 575.59 84.56 576.13 81.75 C576.68 78.95 577.22 74.80 577.77 72.76 C578.31 70.72 578.80 70.58 579.40 69.49 C580.00 68.40 580.76 67.72 581.36 66.22 C581.96 64.72 582.45 62.27 583.00 60.50 C583.54 58.73 584.09 56.90 584.63 55.59 C585.18 54.28 585.64 53.06 586.27 52.65 C586.90 52.24 587.77 53.74 588.39 53.14 C589.02 52.54 589.48 50.14 590.03 49.05 C590.57 47.96 591.12 46.05 591.66 46.60 C592.21 47.14 592.75 48.64 593.30 52.32 C593.84 56.00 594.31 64.37 594.93 68.67 C595.56 72.98 596.43 77.34 597.06 78.15 C597.69 78.97 598.15 75.70 598.69 73.58 C599.24 71.45 599.73 67.85 600.33 65.40 C600.93 62.95 601.69 61.86 602.29 58.86 C602.89 55.86 603.44 50.96 603.93 47.42 C604.42 43.87 604.83 40.11 605.24 37.61 C605.64 35.10 605.92 32.37 606.38 32.37 C606.84 32.37 607.55 34.01 608.01 37.61 C608.48 41.20 608.75 47.42 609.16 53.96 C609.57 60.50 610.11 70.50 610.47 76.85 C610.82 83.20 611.07 88.44 611.28 92.05 C611.50 95.67 611.42 98.00 611.78 98.54 C612.13 99.08 612.95 96.36 613.41 95.27 C613.87 94.18 614.28 93.03 614.55 92.00 C614.83 90.97 614.69 89.32 615.05 89.11 C615.40 88.90 616.30 89.99 616.68 90.74 C617.06 91.50 616.95 91.79 617.33 93.64 C617.72 95.48 618.48 98.00 618.97 101.81 C619.46 105.63 619.87 111.35 620.28 116.53 C620.69 121.70 621.07 127.70 621.42 132.88 C621.78 138.05 622.24 145.14 622.40 147.59" fill="none" stroke="#2b2b2b" stroke-width="1.4" stroke-linejoin="round" clip-path="url(#c1)"/><rect x="401.0" y="2.5" width="224.4" height="179.9" fill="none" stroke="#000" stroke-width="1.8"/><path d="M396.4 178.80H401.0M398.4 171.57H401.0M397.4 164.34H401.0M398.4 157.11H401.0M396.4 149.88H401.0M398.4 142.65H401.0M397.4 135.42H401.0M398.4 128.19H401.0M396.4 120.96H401.0M398.4 113.73H401.0M397.4 106.50H401.0M398.4 99.27H401.0M396.4 92.04H401.0M398.4 84.81H401.0M397.4 77.58H401.0M398.4 70.35H401.0M396.4 63.12H401.0M398.4 55.89H401.0M397.4 48.66H401.0M398.4 41.43H401.0M396.4 34.20H401.0M398.4 26.97H401.0M397.4 19.74H401.0M398.4 12.51H401.0M396.4 5.28H401.0M407.95 182.4V188.0M417.82 182.4V185.8M427.69 182.4V185.8M437.56 182.4V185.8M447.43 182.4V185.8M457.30 182.4V188.0M467.17 182.4V185.8M477.04 182.4V185.8M486.91 182.4V185.8M496.78 182.4V185.8M506.65 182.4V188.0M516.52 182.4V185.8M526.39 182.4V185.8M536.26 182.4V185.8M546.13 182.4V185.8M556.00 182.4V188.0M565.87 182.4V185.8M575.74 182.4V185.8M585.61 182.4V185.8M595.48 182.4V185.8M605.35 182.4V188.0M615.22 182.4V185.8" stroke="#222" stroke-width="1" fill="none"/><text x="389.9" y="184.3" font-size="12.3" text-anchor="middle">0</text><text x="389.9" y="155.4" font-size="12.3" text-anchor="middle">2</text><text x="389.9" y="126.5" font-size="12.3" text-anchor="middle">4</text><text x="389.9" y="97.5" font-size="12.3" text-anchor="middle">6</text><text x="389.9" y="68.6" font-size="12.3" text-anchor="middle">8</text><text x="388.5" y="39.7" font-size="12.3" text-anchor="middle">10</text><text x="388.5" y="10.8" font-size="12.3" text-anchor="middle">12</text><text x="411.7" y="198.7" font-size="12" text-anchor="middle">-15</text><text x="454.7" y="198.7" font-size="12" text-anchor="middle">-10</text><text x="505.0" y="198.7" font-size="12" text-anchor="middle">-5</text><text x="558.3" y="198.7" font-size="12" text-anchor="middle">0</text><text x="605.1" y="198.7" font-size="12" text-anchor="middle">5</text><text transform="translate(369.5 89.8) rotate(-90)" font-size="12.30" text-anchor="middle" dominant-baseline="central">Relative Intensity</text><text x="516.0" y="218.5" font-size="12" text-anchor="middle">Energy (<tspan font-style="italic">eV</tspan>)</text><text x="520.4" y="243.6" font-size="18" text-anchor="middle">PT1</text><path d="M626.2 8.3H630.4" stroke="#ff5a5a" stroke-width="1.7"/><path d="M626.2 22.3H630.4" stroke="#4aa84a" stroke-width="1.7"/><path d="M626.2 36.0H630.4" stroke="#444" stroke-width="1.7"/><text x="634.0" y="12.4" font-size="12"><tspan font-style="italic">&#960;</tspan>-spacer</text><text x="634.0" y="27.7" font-size="12">Acceptor</text><text x="635.5" y="43.0" font-size="12">Total</text></g>
<g><clipPath id="c2"><rect x="37.2" y="263.6" width="226.5" height="181.7"/></clipPath><path d="M39.94 412.86 C40.13 411.77 40.71 407.68 41.09 406.32 C41.47 404.96 41.77 404.14 42.23 404.69 C42.70 405.23 43.38 406.59 43.87 409.59 C44.36 412.59 44.74 419.95 45.18 422.67 C45.61 425.40 45.99 426.21 46.48 425.94 C46.97 425.67 47.57 422.81 48.12 421.04 C48.66 419.27 49.21 416.68 49.75 415.31 C50.30 413.95 50.79 413.00 51.39 412.86 C51.99 412.73 52.75 414.91 53.35 414.50 C53.95 414.09 54.44 411.77 54.99 410.41 C55.53 409.05 56.08 408.36 56.62 406.32 C57.17 404.28 57.71 401.96 58.26 398.15 C58.80 394.33 59.35 386.97 59.89 383.43 C60.44 379.89 60.93 378.31 61.53 376.89 C62.13 375.47 62.89 374.79 63.49 374.93 C64.09 375.06 64.58 376.84 65.12 377.71 C65.67 378.58 66.21 379.97 66.76 380.16 C67.30 380.35 67.85 378.17 68.39 378.85 C68.94 379.53 69.48 381.99 70.03 384.25 C70.57 386.51 71.04 390.11 71.66 392.42 C72.29 394.74 73.16 398.01 73.79 398.15 C74.42 398.28 74.88 395.97 75.42 393.24 C75.97 390.52 76.51 385.34 77.06 381.80 C77.60 378.25 78.15 374.71 78.69 371.99 C79.24 369.26 79.78 367.08 80.33 365.45 C80.87 363.81 81.42 361.90 81.96 362.18 C82.51 362.45 83.05 365.72 83.60 367.08 C84.14 368.44 84.69 370.90 85.23 370.35 C85.78 369.81 86.32 365.99 86.87 363.81 C87.41 361.63 88.04 358.91 88.50 357.27 C88.97 355.64 89.46 355.44 89.65 354.00 C89.84 352.56 89.48 349.87 89.65 348.66 C89.81 347.44 90.27 346.42 90.63 346.69 C90.98 346.97 91.45 349.07 91.77 350.29 C92.10 351.52 92.45 352.34 92.59 354.05 C92.73 355.76 92.37 358.51 92.59 360.54 C92.81 362.58 93.49 364.76 93.90 366.26 C94.31 367.76 94.66 368.85 95.04 369.53 C95.43 370.21 95.78 369.40 96.19 370.35 C96.60 371.30 97.06 373.08 97.50 375.26 C97.93 377.44 98.40 381.25 98.80 383.43 C99.21 385.61 99.57 387.79 99.95 388.34 C100.33 388.88 100.68 386.97 101.09 386.70 C101.50 386.43 101.91 385.07 102.40 386.70 C102.89 388.34 103.55 392.42 104.04 396.51 C104.53 400.60 104.94 407.14 105.34 411.23 C105.75 415.31 106.03 419.67 106.49 421.04 C106.95 422.40 107.58 420.36 108.12 419.40 C108.67 418.45 109.21 416.40 109.76 415.31 C110.30 414.22 110.77 413.00 111.39 412.86 C112.02 412.73 112.84 413.68 113.52 414.50 C114.20 415.31 114.88 417.09 115.48 417.77 C116.08 418.45 116.57 419.40 117.12 418.58 C117.66 417.77 118.15 414.91 118.75 412.86 C119.35 410.82 120.11 407.68 120.71 406.32 C121.31 404.96 121.80 404.69 122.35 404.69 C122.89 404.69 123.44 404.96 123.98 406.32 C124.53 407.68 125.13 409.32 125.62 412.86 C126.11 416.40 126.49 423.49 126.93 427.58 C127.36 431.66 127.74 435.34 128.24 437.39 C128.73 439.43 129.27 439.57 129.87 439.84 C130.47 440.11 131.10 439.02 131.83 439.02 C132.57 439.02 133.33 439.29 134.28 439.84 C135.24 440.39 136.46 441.89 137.55 442.30 C138.64 442.71 139.87 442.30 140.82 442.30 C141.78 442.30 142.46 442.30 143.28 442.30 M145.73 442.30 M152.00 442.30 M156.09 442.30 C157.18 440.66 157.80 436.30 158.54 432.48 C159.28 428.67 159.96 422.67 160.50 419.40 C161.05 416.13 161.43 414.36 161.81 412.86 C162.19 411.36 162.38 410.14 162.79 410.41 C163.20 410.68 163.75 411.91 164.26 414.50 C164.78 417.09 165.35 422.40 165.90 425.94 C166.44 429.48 166.91 433.03 167.53 435.75 C168.16 438.48 168.84 441.54 169.66 442.30 C170.48 443.06 171.57 440.88 172.44 440.33 C173.31 439.78 174.07 439.65 174.89 439.02 C175.71 438.40 176.66 437.93 177.34 436.57 C178.02 435.21 178.43 433.71 178.98 430.85 C179.52 427.99 180.07 422.94 180.61 419.40 C181.16 415.86 181.78 412.04 182.25 409.59 C182.71 407.14 182.98 404.69 183.39 404.69 C183.80 404.69 184.21 407.82 184.70 409.59 C185.19 411.36 185.79 415.86 186.34 415.31 C186.88 414.77 187.48 410.00 187.97 406.32 C188.46 402.64 188.87 396.37 189.28 393.24 C189.69 390.11 190.04 387.52 190.42 387.52 C190.80 387.52 191.16 390.11 191.57 393.24 C191.98 396.37 192.39 402.51 192.88 406.32 C193.37 410.14 193.97 415.59 194.51 416.13 C195.06 416.68 195.60 411.23 196.15 409.59 C196.69 407.96 197.24 406.59 197.78 406.32 C198.33 406.05 198.87 408.50 199.42 407.96 C199.96 407.41 200.51 405.23 201.05 403.05 C201.60 400.87 202.09 397.60 202.69 394.88 C203.29 392.15 204.05 388.88 204.65 386.70 C205.25 384.52 205.74 383.02 206.28 381.80 C206.83 380.57 207.37 378.53 207.92 379.34 C208.46 380.16 209.06 383.57 209.55 386.70 C210.04 389.83 210.43 395.42 210.86 398.15 C211.30 400.87 211.68 402.51 212.17 403.05 C212.66 403.60 213.20 400.87 213.80 401.42 C214.40 401.96 215.03 404.55 215.77 406.32 C216.50 408.09 217.46 412.86 218.22 412.04 C218.98 411.23 219.61 404.77 220.34 401.42 C221.08 398.06 221.90 392.89 222.63 391.93 C223.37 390.98 224.05 394.66 224.76 395.69 C225.47 396.73 226.26 396.92 226.88 398.15 C227.51 399.37 227.92 401.42 228.52 403.05 C229.12 404.69 229.75 406.92 230.48 407.96 C231.22 408.99 232.12 409.40 232.93 409.26 C233.75 409.13 234.71 408.17 235.39 407.14 C236.07 406.10 236.42 404.82 237.02 403.05 C237.62 401.28 238.22 398.28 238.98 396.51 C239.75 394.74 240.70 394.33 241.60 392.42 C242.50 390.52 243.64 385.47 244.38 385.07 C245.12 384.66 245.47 387.25 246.01 389.97 C246.56 392.70 247.10 398.15 247.65 401.42 C248.19 404.69 248.74 409.32 249.28 409.59 C249.83 409.86 250.29 405.50 250.92 403.05 C251.55 400.60 252.31 397.19 253.05 394.88 C253.78 392.56 254.60 389.83 255.33 389.15 C256.07 388.47 256.83 389.56 257.46 390.79 C258.09 392.01 258.63 393.38 259.09 396.51 C259.56 399.64 259.89 404.69 260.24 409.59 C260.59 414.50 261.06 423.22 261.22 425.94" fill="none" stroke="#33a033" stroke-width="1.4" stroke-linejoin="round" clip-path="url(#c2)"/><path d="M39.94 422.67 C40.13 422.13 40.71 420.36 41.09 419.40 C41.47 418.45 41.77 416.95 42.23 416.95 C42.70 416.95 43.24 418.50 43.87 419.40 C44.49 420.30 45.28 422.34 45.99 422.34 C46.70 422.34 47.44 420.30 48.12 419.40 C48.80 418.50 49.43 418.04 50.08 416.95 C50.73 415.86 51.50 415.18 52.04 412.86 C52.59 410.55 52.86 407.41 53.35 403.05 C53.84 398.69 54.49 390.79 54.99 386.70 C55.48 382.61 55.88 380.16 56.29 378.53 C56.70 376.89 56.97 375.53 57.44 376.89 C57.90 378.25 58.53 382.34 59.07 386.70 C59.62 391.06 60.16 399.64 60.71 403.05 C61.25 406.46 61.80 407.41 62.34 407.14 C62.89 406.87 63.43 404.28 63.98 401.42 C64.52 398.55 64.93 393.79 65.61 389.97 C66.29 386.16 67.25 381.80 68.07 378.53 C68.88 375.26 69.76 372.39 70.52 370.35 C71.28 368.31 72.02 367.03 72.64 366.26 C73.27 365.50 73.68 365.23 74.28 365.77 C74.88 366.32 75.59 368.50 76.24 369.53 C76.89 370.57 77.60 372.67 78.20 371.99 C78.80 371.30 79.29 367.63 79.84 365.45 C80.38 363.27 80.98 360.32 81.47 358.91 C81.96 357.49 82.29 356.13 82.78 356.94 C83.27 357.76 83.87 360.49 84.42 363.81 C84.96 367.13 85.45 372.80 86.05 376.89 C86.65 380.98 87.41 385.88 88.01 388.34 C88.61 390.79 89.10 391.88 89.65 391.61 C90.19 391.33 90.74 389.70 91.28 386.70 C91.83 383.70 92.37 377.71 92.92 373.62 C93.46 369.53 94.06 364.63 94.55 362.18 C95.04 359.72 95.43 358.36 95.86 358.91 C96.30 359.45 96.76 362.18 97.17 365.45 C97.58 368.72 97.93 373.62 98.31 378.53 C98.70 383.43 99.00 390.24 99.46 394.88 C99.92 399.51 100.60 403.73 101.09 406.32 C101.58 408.91 101.91 410.95 102.40 410.41 C102.89 409.86 103.49 405.09 104.04 403.05 C104.58 401.01 105.13 399.02 105.67 398.15 C106.22 397.27 106.76 397.00 107.31 397.82 C107.85 398.64 108.40 400.54 108.94 403.05 C109.49 405.56 110.03 409.32 110.58 412.86 C111.12 416.40 111.67 421.09 112.21 424.31 C112.76 427.52 113.25 430.52 113.85 432.15 C114.45 433.79 115.13 434.06 115.81 434.12 C116.49 434.17 117.31 433.57 117.93 432.48 C118.56 431.39 119.02 429.76 119.57 427.58 C120.11 425.40 120.66 422.67 121.20 419.40 C121.75 416.13 122.21 410.90 122.84 407.96 C123.47 405.01 124.42 402.02 124.96 401.74 C125.51 401.47 125.73 403.38 126.11 406.32 C126.49 409.26 126.90 415.31 127.25 419.40 C127.61 423.49 127.88 428.39 128.24 430.85 C128.59 433.30 128.83 433.84 129.38 434.12 C129.92 434.39 130.82 432.48 131.51 432.48 C132.19 432.48 132.73 433.57 133.47 434.12 C134.20 434.66 135.16 436.02 135.92 435.75 C136.68 435.48 137.42 433.30 138.05 432.48 C138.67 431.66 139.08 430.30 139.68 430.85 C140.28 431.39 140.91 433.84 141.64 435.75 C142.38 437.66 143.28 441.21 144.09 442.30 M146.55 442.30 M152.00 442.30 M156.91 442.30 C158.13 441.48 158.59 439.16 159.36 437.39 C160.12 435.61 160.80 433.03 161.48 431.66 C162.16 430.30 162.79 429.08 163.45 429.21 C164.10 429.35 164.73 430.98 165.41 432.48 C166.09 433.98 166.82 436.57 167.53 438.20 C168.24 439.84 168.98 442.44 169.66 442.30 C170.34 442.16 170.97 439.02 171.62 437.39 C172.27 435.75 172.98 433.57 173.58 432.48 C174.18 431.39 174.59 430.85 175.22 430.85 C175.84 430.85 176.58 431.94 177.34 432.48 C178.11 433.03 178.98 433.79 179.80 434.12 C180.61 434.44 181.43 434.31 182.25 434.44 C183.07 434.58 184.02 435.26 184.70 434.93 C185.38 434.61 185.74 433.98 186.34 432.48 C186.94 430.98 187.62 428.12 188.30 425.94 C188.98 423.76 189.66 420.76 190.42 419.40 C191.19 418.04 192.14 418.58 192.88 417.77 C193.61 416.95 194.16 416.95 194.84 414.50 C195.52 412.04 196.25 406.32 196.96 403.05 C197.67 399.78 198.46 396.92 199.09 394.88 C199.72 392.83 200.18 391.06 200.72 390.79 C201.27 390.52 201.81 393.10 202.36 393.24 C202.90 393.38 203.39 393.24 203.99 391.61 C204.59 389.97 205.30 385.61 205.96 383.43 C206.61 381.25 207.32 378.53 207.92 378.53 C208.52 378.53 209.06 380.98 209.55 383.43 C210.04 385.88 210.43 389.97 210.86 393.24 C211.30 396.51 211.73 401.14 212.17 403.05 C212.61 404.96 213.01 405.78 213.48 404.69 C213.94 403.60 214.51 400.05 214.95 396.51 C215.38 392.97 215.68 387.52 216.09 383.43 C216.50 379.34 216.91 374.71 217.40 371.99 C217.89 369.26 218.49 367.76 219.04 367.08 C219.58 366.40 220.13 368.44 220.67 367.90 C221.22 367.35 221.76 365.58 222.31 363.81 C222.85 362.04 223.45 358.91 223.94 357.27 C224.43 355.64 225.03 355.44 225.25 354.00 C225.47 352.56 225.03 349.87 225.25 348.66 C225.47 347.44 226.09 346.56 226.56 346.69 C227.02 346.83 227.65 348.25 228.03 349.47 C228.41 350.70 228.44 351.66 228.85 354.05 C229.26 356.44 229.94 360.55 230.48 363.81 C231.03 367.07 231.57 371.17 232.12 373.62 C232.66 376.07 233.15 378.25 233.75 378.53 C234.35 378.80 235.03 376.35 235.71 375.26 C236.40 374.17 237.08 373.62 237.84 371.99 C238.60 370.35 239.56 367.90 240.29 365.45 C241.03 362.99 241.76 359.18 242.25 357.27 C242.74 355.36 243.02 354.75 243.24 354.00 C243.45 353.25 243.37 352.47 243.56 352.74 C243.75 353.02 243.97 353.79 244.38 355.64 C244.79 357.48 245.47 360.27 246.01 363.81 C246.56 367.35 247.10 372.26 247.65 376.89 C248.19 381.52 248.74 387.79 249.28 391.61 C249.83 395.42 250.37 399.78 250.92 399.78 C251.46 399.78 252.01 393.79 252.55 391.61 C253.10 389.43 253.51 387.93 254.19 386.70 C254.87 385.47 255.96 384.25 256.64 384.25 C257.32 384.25 257.79 385.20 258.28 386.70 C258.77 388.20 259.23 390.52 259.59 393.24 C259.94 395.97 260.13 399.51 260.40 403.05 C260.68 406.59 261.08 412.59 261.22 414.50" fill="none" stroke="#ff2a2a" stroke-width="1.4" stroke-linejoin="round" clip-path="url(#c2)"/><path d="M39.94 393.24 C40.13 391.61 40.71 385.75 41.09 383.43 C41.47 381.11 41.82 378.80 42.23 379.34 C42.64 379.89 43.10 383.29 43.54 386.70 C43.98 390.11 44.44 396.78 44.85 399.78 C45.26 402.78 45.53 404.96 45.99 404.69 C46.46 404.41 47.08 400.60 47.63 398.15 C48.17 395.69 48.72 392.01 49.26 389.97 C49.81 387.93 50.35 386.97 50.90 385.88 C51.44 384.79 52.12 384.66 52.53 383.43 C52.94 382.20 53.00 381.25 53.35 378.53 C53.70 375.80 54.25 370.62 54.66 367.08 C55.07 363.54 55.61 360.89 55.80 357.27 C55.99 353.65 55.53 348.46 55.80 345.39 C56.08 342.32 56.89 339.53 57.44 338.85 C57.98 338.17 58.53 340.62 59.07 341.30 C59.62 341.98 60.16 343.07 60.71 342.93 C61.25 342.80 61.80 341.71 62.34 340.48 C62.89 339.26 63.43 337.48 63.98 335.58 C64.52 333.67 65.15 331.22 65.61 329.04 C66.08 326.86 66.35 324.68 66.76 322.50 C67.17 320.32 67.58 317.54 68.07 315.96 C68.56 314.38 69.16 313.01 69.70 313.01 C70.25 313.01 70.79 314.65 71.34 315.96 C71.88 317.26 72.48 319.91 72.97 320.86 C73.46 321.82 73.79 322.50 74.28 321.68 C74.77 320.86 75.37 318.00 75.91 315.96 C76.46 313.91 77.00 312.14 77.55 309.42 C78.09 306.69 78.64 303.42 79.18 299.61 C79.73 295.79 80.27 290.34 80.82 286.53 C81.36 282.71 81.91 276.72 82.45 276.72 C83.00 276.72 83.54 282.44 84.09 286.53 C84.63 290.61 85.18 297.56 85.72 301.24 C86.27 304.92 86.81 308.87 87.36 308.60 C87.90 308.33 88.45 302.06 88.99 299.61 C89.54 297.15 90.17 294.97 90.63 293.88 C91.09 292.79 91.31 292.52 91.77 293.07 C92.24 293.61 93.00 297.15 93.41 297.15 C93.82 297.15 93.82 295.11 94.23 293.07 C94.64 291.02 95.37 284.89 95.86 284.89 C96.35 284.89 96.76 288.71 97.17 293.07 C97.58 297.43 97.99 305.33 98.31 311.05 C98.64 316.77 98.83 322.50 99.13 327.40 C99.43 332.31 99.79 336.94 100.11 340.48 C100.44 344.02 100.71 346.40 101.09 348.66 C101.47 350.92 101.97 352.07 102.40 354.05 C102.84 356.03 103.30 358.37 103.71 360.54 C104.12 362.71 104.39 364.76 104.85 367.08 C105.32 369.40 106.03 373.08 106.49 374.44 C106.95 375.80 107.22 374.85 107.63 375.26 C108.04 375.66 108.45 375.66 108.94 376.89 C109.43 378.12 110.03 380.16 110.58 382.61 C111.12 385.07 111.67 388.47 112.21 391.61 C112.76 394.74 113.25 398.55 113.85 401.42 C114.45 404.28 115.13 408.50 115.81 408.77 C116.49 409.05 117.31 405.37 117.93 403.05 C118.56 400.73 119.02 397.60 119.57 394.88 C120.11 392.15 120.66 389.70 121.20 386.70 C121.75 383.70 122.29 379.67 122.84 376.89 C123.38 374.11 123.93 369.75 124.47 370.02 C125.02 370.30 125.65 374.11 126.11 378.53 C126.57 382.94 126.90 390.24 127.25 396.51 C127.61 402.78 127.88 410.95 128.24 416.13 C128.59 421.31 128.92 425.12 129.38 427.58 C129.84 430.03 130.47 430.52 131.01 430.85 C131.56 431.17 132.10 429.40 132.65 429.54 C133.19 429.67 133.74 430.90 134.28 431.66 C134.83 432.43 135.37 434.12 135.92 434.12 C136.46 434.12 137.01 432.43 137.55 431.66 C138.10 430.90 138.64 429.40 139.19 429.54 C139.73 429.67 140.28 431.17 140.82 432.48 C141.37 433.79 141.91 435.75 142.46 437.39 C143.00 439.02 143.41 441.48 144.09 442.30 C144.78 443.12 145.73 442.30 146.55 442.30 C147.36 442.30 148.09 442.30 149.00 442.30 C149.91 442.30 150.74 442.30 152.00 442.30 C153.26 442.30 155.49 443.66 156.58 442.30 C157.67 440.94 157.94 438.48 158.54 434.12 C159.14 429.76 159.63 421.58 160.18 416.13 C160.72 410.68 161.27 404.69 161.81 401.42 C162.36 398.15 162.90 396.24 163.45 396.51 C163.99 396.78 164.54 399.24 165.08 403.05 C165.63 406.87 166.17 413.95 166.72 419.40 C167.26 424.85 167.81 432.21 168.35 435.75 C168.90 439.29 169.39 440.93 169.99 440.66 C170.58 440.38 171.35 436.02 171.95 434.12 C172.55 432.21 172.96 430.30 173.58 429.21 C174.21 428.12 175.08 428.12 175.71 427.58 C176.33 427.03 176.80 427.58 177.34 425.94 C177.89 424.31 178.43 421.04 178.98 417.77 C179.52 414.50 179.99 409.65 180.61 406.32 C181.24 403.00 182.11 398.64 182.74 397.82 C183.37 397.00 183.83 400.00 184.37 401.42 C184.92 402.83 185.46 406.87 186.01 406.32 C186.55 405.78 187.18 401.96 187.64 398.15 C188.11 394.33 188.41 388.34 188.79 383.43 C189.17 378.53 189.58 371.77 189.93 368.72 C190.29 365.66 190.56 364.85 190.91 365.12 C191.27 365.39 191.68 367.57 192.06 370.35 C192.44 373.13 192.79 378.80 193.20 381.80 C193.61 384.79 194.07 388.61 194.51 388.34 C194.95 388.06 195.41 383.16 195.82 380.16 C196.23 377.16 196.50 373.21 196.96 370.35 C197.43 367.49 198.05 365.17 198.60 362.99 C199.14 360.81 199.69 358.77 200.23 357.27 C200.78 355.77 201.46 355.71 201.87 354.00 C202.28 352.29 202.28 350.09 202.69 347.02 C203.09 343.95 203.78 339.66 204.32 335.58 C204.87 331.49 205.41 325.77 205.96 322.50 C206.50 319.23 207.10 316.23 207.59 315.96 C208.08 315.68 208.49 317.59 208.90 320.86 C209.31 324.13 209.66 330.04 210.04 335.58 C210.43 341.11 210.92 349.62 211.19 354.05 C211.46 358.49 211.41 360.28 211.68 362.18 C211.95 364.07 212.41 365.72 212.82 365.45 C213.23 365.17 213.70 362.45 214.13 360.54 C214.57 358.63 215.22 356.53 215.44 354.00 C215.66 351.47 215.17 347.91 215.44 345.39 C215.71 342.86 216.47 340.75 217.07 338.85 C217.67 336.94 218.49 335.58 219.04 333.94 C219.58 332.31 219.85 331.76 220.34 329.04 C220.84 326.31 221.38 321.41 221.98 317.59 C222.58 313.78 223.21 309.09 223.94 306.15 C224.68 303.20 225.71 300.21 226.39 299.93 C227.08 299.66 227.48 301.57 228.03 304.51 C228.57 307.45 229.12 312.96 229.66 317.59 C230.21 322.22 230.75 328.22 231.30 332.31 C231.84 336.39 232.47 340.07 232.93 342.12 C233.40 344.16 233.62 345.11 234.08 344.57 C234.54 344.02 235.17 341.16 235.71 338.85 C236.26 336.53 236.80 333.12 237.35 330.67 C237.89 328.22 238.44 326.04 238.98 324.13 C239.53 322.22 240.13 321.68 240.62 319.23 C241.11 316.77 241.49 312.82 241.93 309.42 C242.36 306.01 242.91 300.91 243.24 298.79 C243.56 296.66 243.56 296.25 243.89 296.66 C244.22 297.07 244.76 298.30 245.20 301.24 C245.63 304.18 246.10 309.42 246.51 314.32 C246.91 319.23 247.27 325.77 247.65 330.67 C248.03 335.58 248.44 339.85 248.79 343.75 C249.15 347.65 249.56 351.25 249.78 354.05 C249.99 356.85 249.91 359.19 250.10 360.54 C250.29 361.89 250.59 362.72 250.92 362.18 C251.25 361.63 251.71 358.63 252.06 357.27 C252.42 355.91 252.61 357.62 253.05 354.00 C253.48 350.38 254.14 339.46 254.68 335.58 C255.23 331.69 255.77 330.94 256.32 330.67 C256.86 330.40 257.49 332.03 257.95 333.94 C258.41 335.85 258.77 338.76 259.09 342.12 C259.42 345.47 259.69 349.35 259.91 354.05 C260.13 358.76 260.27 364.91 260.40 370.35 C260.54 375.79 260.59 382.07 260.73 386.70 C260.87 391.33 261.14 396.24 261.22 398.15" fill="none" stroke="#2b2b2b" stroke-width="1.4" stroke-linejoin="round" clip-path="url(#c2)"/><rect x="37.2" y="263.6" width="226.5" height="181.7" fill="none" stroke="#000" stroke-width="1.8"/><path d="M32.6 442.30H37.2M34.6 435.01H37.2M33.6 427.72H37.2M34.6 420.43H37.2M32.6 413.14H37.2M34.6 405.85H37.2M33.6 398.56H37.2M34.6 391.27H37.2M32.6 383.98H37.2M34.6 376.69H37.2M33.6 369.40H37.2M34.6 362.11H37.2M32.6 354.82H37.2M34.6 347.53H37.2M33.6 340.24H37.2M34.6 332.95H37.2M32.6 325.66H37.2M34.6 318.37H37.2M33.6 311.08H37.2M34.6 303.79H37.2M32.6 296.50H37.2M34.6 289.21H37.2M33.6 281.92H37.2M34.6 274.63H37.2M32.6 267.34H37.2M44.65 445.3V450.9M54.64 445.3V448.7M64.63 445.3V448.7M74.62 445.3V448.7M84.61 445.3V448.7M94.60 445.3V450.9M104.59 445.3V448.7M114.58 445.3V448.7M124.57 445.3V448.7M134.56 445.3V448.7M144.55 445.3V450.9M154.54 445.3V448.7M164.53 445.3V448.7M174.52 445.3V448.7M184.51 445.3V448.7M194.50 445.3V450.9M204.49 445.3V448.7M214.48 445.3V448.7M224.47 445.3V448.7M234.46 445.3V448.7M244.45 445.3V450.9M254.44 445.3V448.7" stroke="#222" stroke-width="1" fill="none"/><text x="25.4" y="447.0" font-size="12.3" text-anchor="middle">0</text><text x="25.4" y="417.8" font-size="12.3" text-anchor="middle">2</text><text x="25.4" y="388.7" font-size="12.3" text-anchor="middle">4</text><text x="25.4" y="359.5" font-size="12.3" text-anchor="middle">6</text><text x="25.4" y="330.4" font-size="12.3" text-anchor="middle">8</text><text x="24.0" y="301.2" font-size="12.3" text-anchor="middle">10</text><text x="24.0" y="272.0" font-size="12.3" text-anchor="middle">12</text><text x="48.7" y="461.5" font-size="12" text-anchor="middle">-15</text><text x="91.8" y="461.5" font-size="12" text-anchor="middle">-10</text><text x="143.0" y="461.5" font-size="12" text-anchor="middle">-5</text><text x="195.8" y="461.5" font-size="12" text-anchor="middle">0</text><text x="243.4" y="461.5" font-size="12" text-anchor="middle">5</text><text transform="translate(5.3 351.5) rotate(-90)" font-size="12.20" text-anchor="middle" dominant-baseline="central">Relative Intensity</text><text x="153.4" y="481.6" font-size="12" text-anchor="middle">Energy (<tspan font-style="italic">eV</tspan>)</text><text x="160.9" y="509.6" font-size="18" text-anchor="middle">PT2</text><path d="M264.5 270.0H268.5" stroke="#ff5a5a" stroke-width="1.7"/><path d="M264.5 284.2H268.5" stroke="#4aa84a" stroke-width="1.7"/><path d="M264.5 298.8H268.5" stroke="#444" stroke-width="1.7"/><text x="272.0" y="274.0" font-size="12.4"><tspan font-style="italic">&#960;</tspan>-spacer</text><text x="272.0" y="289.1" font-size="12.4">Acceptor</text><text x="273.6" y="304.3" font-size="12.4">Total</text></g>
<g><clipPath id="c3"><rect x="396.3" y="259.0" width="229.8" height="184.1"/></clipPath><path d="M398.54 422.82 C398.74 422.54 399.16 421.12 399.73 421.12 C400.29 421.12 401.19 422.54 401.93 422.82 C402.66 423.10 403.42 422.39 404.13 422.82 C404.83 423.24 405.48 424.51 406.16 425.36 C406.84 426.20 407.57 427.62 408.19 427.90 C408.81 428.18 409.32 428.18 409.89 427.05 C410.45 425.92 411.07 423.52 411.58 421.12 C412.09 418.73 412.43 416.04 412.93 412.66 C413.44 409.27 414.01 403.91 414.63 400.80 C415.25 397.70 416.10 395.44 416.66 394.03 C417.22 392.62 417.51 391.49 418.01 392.34 C418.52 393.18 419.14 396.85 419.71 399.11 C420.27 401.37 420.89 404.33 421.40 405.88 C421.91 407.44 422.25 408.71 422.76 408.42 C423.26 408.14 423.89 405.74 424.45 404.19 C425.01 402.64 425.52 400.75 426.14 399.11 C426.76 397.47 427.55 394.93 428.18 394.37 C428.80 393.80 429.25 394.93 429.87 395.72 C430.49 396.51 431.20 397.98 431.90 399.11 C432.61 400.24 433.45 401.59 434.10 402.50 C434.75 403.40 435.15 404.81 435.80 404.53 C436.44 404.25 437.35 403.12 438.00 400.80 C438.65 398.49 439.21 395.16 439.69 390.64 C440.17 386.13 440.54 378.79 440.88 373.71 C441.21 368.63 441.44 364.11 441.72 360.16 C442.00 356.21 442.15 355.45 442.57 350.00 C442.99 344.55 443.78 329.78 444.26 327.43 C444.74 325.08 445.08 332.14 445.45 335.90 C445.82 339.65 446.24 345.91 446.46 349.95 C446.69 354.00 446.61 357.05 446.80 360.16 C447.00 363.27 447.31 366.51 447.65 368.63 C447.99 370.74 448.36 373.14 448.84 372.86 C449.31 372.58 450.02 369.62 450.53 366.93 C451.04 364.25 451.52 359.31 451.88 356.77 C452.25 354.23 452.31 350.56 452.73 351.69 C453.15 352.82 453.94 358.18 454.42 363.55 C454.90 368.91 455.19 376.81 455.61 383.87 C456.03 390.92 456.46 399.67 456.96 405.88 C457.47 412.09 458.09 417.31 458.66 421.12 C459.22 424.93 459.73 427.62 460.35 428.74 C460.97 429.87 461.68 428.46 462.38 427.90 C463.09 427.33 463.79 425.92 464.58 425.36 C465.37 424.79 466.28 424.79 467.12 424.51 C467.97 424.23 468.96 424.79 469.66 423.66 C470.37 422.54 470.88 420.14 471.36 417.74 C471.84 415.34 472.12 411.53 472.54 409.27 C472.97 407.01 473.39 404.19 473.90 404.19 C474.41 404.19 475.03 406.73 475.59 409.27 C476.16 411.81 476.72 417.17 477.28 419.43 C477.85 421.69 478.41 422.82 478.98 422.82 C479.54 422.82 480.25 420.28 480.67 419.43 C481.09 418.58 481.18 417.45 481.52 417.74 C481.86 418.02 482.28 419.15 482.70 421.12 C483.13 423.10 483.55 427.19 484.06 429.59 C484.57 431.99 485.05 434.11 485.75 435.52 C486.46 436.93 487.45 437.64 488.29 438.06 C489.14 438.48 489.99 437.92 490.83 438.06 C491.68 438.20 492.53 438.76 493.37 438.91 C494.22 439.05 494.92 438.51 495.91 438.91 C496.90 439.30 498.17 440.90 499.30 441.30 C500.43 441.70 501.56 441.30 502.69 441.30 C503.82 441.30 504.85 441.30 506.07 441.30 M510.00 441.30 M515.08 441.30 C516.35 440.20 516.91 438.03 517.62 434.67 C518.33 431.31 518.75 424.51 519.31 421.12 C519.88 417.74 520.53 415.76 521.01 414.35 C521.49 412.94 521.77 412.37 522.19 412.66 C522.62 412.94 523.04 413.50 523.55 416.04 C524.06 418.58 524.68 424.51 525.24 427.90 C525.81 431.28 526.37 434.53 526.93 436.36 C527.50 438.20 528.01 439.47 528.63 438.91 C529.25 438.34 530.04 435.38 530.66 432.98 C531.28 430.58 531.79 426.49 532.35 424.51 C532.92 422.54 533.40 421.55 534.05 421.12 C534.70 420.70 535.51 421.41 536.25 421.97 C536.98 422.54 537.74 423.24 538.45 424.51 C539.16 425.78 539.80 427.90 540.48 429.59 C541.16 431.28 541.81 433.40 542.51 434.67 C543.22 435.94 544.07 437.21 544.72 437.21 C545.36 437.21 545.84 436.79 546.41 434.67 C546.97 432.55 547.54 428.18 548.10 424.51 C548.67 420.84 549.23 415.76 549.80 412.66 C550.36 409.55 551.01 406.87 551.49 405.88 C551.97 404.90 552.19 406.17 552.67 406.73 C553.15 407.29 553.80 409.41 554.37 409.27 C554.93 409.13 555.41 406.73 556.06 405.88 C556.71 405.04 557.61 404.75 558.26 404.19 C558.91 403.63 559.39 403.34 559.96 402.50 C560.52 401.65 561.00 400.80 561.65 399.11 C562.30 397.42 563.20 392.62 563.85 392.34 C564.50 392.05 565.06 395.44 565.54 397.42 C566.02 399.39 566.25 402.64 566.73 404.19 C567.21 405.74 567.86 407.29 568.42 406.73 C568.99 406.17 569.55 403.48 570.12 400.80 C570.68 398.12 571.16 393.46 571.81 390.64 C572.46 387.82 573.22 385.90 574.01 383.87 C574.80 381.84 575.87 378.73 576.55 378.45 C577.23 378.17 577.60 379.86 578.08 382.18 C578.56 384.49 578.98 389.23 579.43 392.34 C579.88 395.44 580.28 397.70 580.79 400.80 C581.29 403.91 581.91 407.86 582.48 410.96 C583.04 414.07 583.61 417.45 584.17 419.43 C584.74 421.41 585.30 422.20 585.87 422.82 C586.43 423.44 586.94 422.73 587.56 423.16 C588.18 423.58 588.97 425.70 589.59 425.36 C590.21 425.02 590.72 423.24 591.28 421.12 C591.85 419.01 592.41 415.48 592.98 412.66 C593.54 409.83 593.97 406.45 594.67 404.19 C595.38 401.93 596.36 400.38 597.21 399.11 C598.06 397.84 598.99 397.42 599.75 396.57 C600.51 395.72 601.16 394.17 601.78 394.03 C602.40 393.89 602.91 395.02 603.48 395.72 C604.04 396.43 604.61 398.40 605.17 398.26 C605.74 398.12 606.30 395.72 606.86 394.88 C607.43 394.03 607.99 392.76 608.56 393.18 C609.12 393.61 609.60 395.86 610.25 397.42 C610.90 398.97 611.72 400.80 612.45 402.50 C613.19 404.19 613.95 406.45 614.65 407.58 C615.36 408.71 616.01 408.56 616.69 409.27 C617.36 409.98 618.10 410.68 618.72 411.81 C619.34 412.94 619.90 414.77 620.41 416.04 C620.92 417.31 621.31 418.02 621.77 419.43 C622.22 420.84 622.90 423.66 623.12 424.51" fill="none" stroke="#33a033" stroke-width="1.4" stroke-linejoin="round" clip-path="url(#c3)"/><path d="M398.54 419.43 C398.74 419.29 399.25 418.30 399.73 418.58 C400.21 418.87 400.77 420.28 401.42 421.12 C402.07 421.97 402.97 423.10 403.62 423.66 C404.27 424.23 404.75 424.65 405.31 424.51 C405.88 424.37 406.44 423.66 407.01 422.82 C407.57 421.97 408.14 421.12 408.70 419.43 C409.27 417.74 409.83 415.76 410.39 412.66 C410.96 409.55 411.52 404.05 412.09 400.80 C412.65 397.56 413.22 394.88 413.78 393.18 C414.35 391.49 414.91 390.50 415.47 390.64 C416.04 390.78 416.60 391.77 417.17 394.03 C417.73 396.29 418.30 401.51 418.86 404.19 C419.43 406.87 420.07 408.71 420.55 410.12 C421.03 411.53 421.26 413.08 421.74 412.66 C422.22 412.23 422.87 409.55 423.43 407.58 C424.00 405.60 424.56 403.06 425.13 400.80 C425.69 398.55 426.17 396.43 426.82 394.03 C427.47 391.63 428.23 388.30 429.02 386.41 C429.81 384.52 430.72 383.25 431.56 382.68 C432.41 382.12 433.26 382.54 434.10 383.02 C434.95 383.50 435.94 384.86 436.64 385.56 C437.35 386.27 437.83 387.54 438.34 387.26 C438.84 386.97 439.27 385.56 439.69 383.87 C440.11 382.18 440.54 378.51 440.88 377.09 C441.21 375.68 441.30 374.27 441.72 375.40 C442.15 376.53 442.85 381.05 443.42 383.87 C443.98 386.69 444.55 389.80 445.11 392.34 C445.67 394.88 446.18 397.42 446.80 399.11 C447.42 400.80 448.21 402.50 448.84 402.50 C449.46 402.50 449.96 400.80 450.53 399.11 C451.09 397.42 451.71 394.88 452.22 392.34 C452.73 389.80 453.13 386.27 453.58 383.87 C454.03 381.47 454.42 377.66 454.93 377.94 C455.44 378.22 456.15 382.03 456.62 385.56 C457.10 389.09 457.42 395.16 457.81 399.11 C458.21 403.06 458.57 406.73 459.00 409.27 C459.42 411.81 459.84 413.36 460.35 414.35 C460.86 415.34 461.48 415.48 462.04 415.20 C462.61 414.91 463.17 413.93 463.74 412.66 C464.30 411.39 464.87 408.71 465.43 407.58 C466.00 406.45 466.56 405.32 467.12 405.88 C467.69 406.45 468.25 408.42 468.82 410.96 C469.38 413.50 469.95 418.02 470.51 421.12 C471.08 424.23 471.58 427.47 472.20 429.59 C472.83 431.71 473.53 432.98 474.24 433.82 C474.94 434.67 475.70 434.95 476.44 434.67 C477.17 434.39 477.93 433.54 478.64 432.13 C479.35 430.72 480.05 428.60 480.67 426.20 C481.29 423.81 481.80 420.28 482.36 417.74 C482.93 415.20 483.55 411.53 484.06 410.96 C484.57 410.40 484.99 412.37 485.41 414.35 C485.84 416.33 486.12 420.00 486.60 422.82 C487.08 425.64 487.73 429.53 488.29 431.28 C488.86 433.03 489.42 433.03 489.99 433.32 C490.55 433.60 491.11 432.89 491.68 432.98 C492.24 433.06 492.67 433.54 493.37 433.82 C494.08 434.11 495.21 434.25 495.91 434.67 C496.62 435.09 497.04 436.65 497.61 436.36 C498.17 436.08 498.73 433.26 499.30 432.98 C499.86 432.70 500.43 433.82 500.99 434.67 C501.56 435.52 501.98 436.95 502.69 438.06 C503.39 439.16 504.24 440.76 505.23 441.30 M508.61 441.30 M510.00 441.30 M515.93 441.30 C517.34 440.48 517.71 437.89 518.47 436.36 C519.23 434.84 519.88 433.26 520.50 432.13 C521.12 431.00 521.63 429.45 522.19 429.59 C522.76 429.73 523.32 431.71 523.89 432.98 C524.45 434.25 524.93 436.14 525.58 437.21 C526.23 438.28 527.05 439.55 527.78 439.41 C528.51 439.27 529.22 437.30 529.98 436.36 C530.74 435.43 531.51 434.45 532.35 433.82 C533.20 433.20 534.27 432.78 535.06 432.64 C535.85 432.50 536.42 432.64 537.09 432.98 C537.77 433.32 538.42 434.11 539.13 434.67 C539.83 435.24 540.68 436.22 541.33 436.36 C541.98 436.51 542.46 436.08 543.02 435.52 C543.59 434.95 544.15 433.68 544.72 432.98 C545.28 432.27 545.84 432.13 546.41 431.28 C546.97 430.44 547.54 429.03 548.10 427.90 C548.67 426.77 549.15 425.36 549.80 424.51 C550.44 423.66 551.24 423.38 552.00 422.82 C552.76 422.25 553.69 421.97 554.37 421.12 C555.05 420.28 555.50 419.15 556.06 417.74 C556.63 416.33 557.19 414.35 557.75 412.66 C558.32 410.96 558.88 409.13 559.45 407.58 C560.01 406.02 560.58 404.47 561.14 403.34 C561.71 402.21 562.27 400.66 562.84 400.80 C563.40 400.94 564.02 403.34 564.53 404.19 C565.04 405.04 565.38 407.01 565.88 405.88 C566.39 404.75 567.01 399.96 567.58 397.42 C568.14 394.88 568.85 392.00 569.27 390.64 C569.69 389.29 569.78 388.72 570.12 389.29 C570.46 389.85 570.94 392.11 571.30 394.03 C571.67 395.95 571.95 398.26 572.32 400.80 C572.69 403.34 573.11 407.29 573.50 409.27 C573.90 411.25 574.21 413.22 574.69 412.66 C575.17 412.09 575.87 409.27 576.38 405.88 C576.89 402.50 577.23 396.00 577.74 392.34 C578.25 388.67 578.87 385.56 579.43 383.87 C580.00 382.18 580.50 382.46 581.12 382.18 C581.75 381.89 582.59 382.74 583.16 382.18 C583.72 381.61 584.00 380.48 584.51 378.79 C585.02 377.09 585.58 373.76 586.20 372.01 C586.83 370.26 587.62 368.57 588.24 368.29 C588.86 368.01 589.37 369.14 589.93 370.32 C590.49 371.51 590.97 373.14 591.62 375.40 C592.27 377.66 593.03 381.33 593.82 383.87 C594.62 386.41 595.60 389.65 596.36 390.64 C597.13 391.63 597.69 390.22 598.40 389.80 C599.10 389.37 599.95 389.09 600.60 388.10 C601.25 387.11 601.73 385.99 602.29 383.87 C602.86 381.75 603.42 377.52 603.99 375.40 C604.55 373.28 605.11 371.17 605.68 371.17 C606.24 371.17 606.81 373.00 607.37 375.40 C607.94 377.80 608.50 381.89 609.07 385.56 C609.63 389.23 610.19 394.03 610.76 397.42 C611.32 400.80 611.89 404.05 612.45 405.88 C613.02 407.72 613.58 409.27 614.15 408.42 C614.71 407.58 615.27 402.78 615.84 400.80 C616.40 398.83 616.97 396.99 617.53 396.57 C618.10 396.15 618.66 396.99 619.23 398.26 C619.79 399.53 620.44 402.07 620.92 404.19 C621.40 406.31 621.74 408.71 622.11 410.96 C622.47 413.22 622.95 416.61 623.12 417.74" fill="none" stroke="#ff2a2a" stroke-width="1.4" stroke-linejoin="round" clip-path="url(#c3)"/><path d="M398.54 403.34 C398.74 402.64 399.25 399.25 399.73 399.11 C400.21 398.97 400.77 401.51 401.42 402.50 C402.07 403.48 402.89 404.05 403.62 405.04 C404.35 406.02 405.12 407.58 405.82 408.42 C406.53 409.27 407.23 410.26 407.85 410.12 C408.47 409.98 408.98 409.41 409.55 407.58 C410.11 405.74 410.68 403.06 411.24 399.11 C411.81 395.16 412.37 389.23 412.93 383.87 C413.50 378.51 414.12 371.73 414.63 366.93 C415.14 362.14 415.56 357.76 415.98 355.08 C416.41 352.40 416.69 351.13 417.17 350.85 C417.65 350.56 418.30 351.27 418.86 353.39 C419.43 355.50 419.99 359.74 420.55 363.55 C421.12 367.36 421.68 375.12 422.25 376.25 C422.81 377.38 423.38 373.28 423.94 370.32 C424.51 367.36 425.16 361.85 425.64 358.47 C426.11 355.08 426.11 353.54 426.82 350.00 C427.53 346.46 429.02 339.04 429.87 337.25 C430.72 335.47 431.20 338.24 431.90 339.28 C432.61 340.33 433.37 342.05 434.10 343.52 C434.84 344.99 435.71 348.23 436.30 348.09 C436.90 347.95 437.26 345.27 437.66 342.67 C438.05 340.07 438.34 336.74 438.67 332.51 C439.01 328.28 439.32 322.63 439.69 317.27 C440.06 311.91 440.48 305.98 440.88 300.34 C441.27 294.69 441.58 288.34 442.06 283.40 C442.54 278.46 443.25 271.83 443.75 270.70 C444.26 269.57 444.74 273.66 445.11 276.63 C445.48 279.59 445.67 283.12 445.96 288.48 C446.24 293.84 446.52 302.59 446.80 308.80 C447.09 315.01 447.31 321.50 447.65 325.74 C447.99 329.97 448.41 334.20 448.84 334.20 C449.26 334.20 449.74 329.97 450.19 325.74 C450.64 321.50 451.12 313.32 451.54 308.80 C451.97 304.29 452.39 300.84 452.73 298.64 C453.07 296.44 453.21 295.31 453.58 295.59 C453.94 295.88 454.59 297.29 454.93 300.34 C455.27 303.38 455.33 308.80 455.61 313.88 C455.89 318.96 456.26 324.81 456.62 330.82 C456.99 336.83 457.53 343.93 457.81 349.95 C458.09 355.97 458.04 360.72 458.32 366.93 C458.60 373.15 459.11 381.33 459.50 387.26 C459.90 393.18 460.32 399.67 460.69 402.50 C461.06 405.32 461.25 405.04 461.71 404.19 C462.16 403.34 462.78 399.39 463.40 397.42 C464.02 395.44 464.67 393.69 465.43 392.34 C466.19 390.98 467.18 389.01 467.97 389.29 C468.76 389.57 469.52 392.53 470.17 394.03 C470.82 395.53 471.30 397.84 471.87 398.26 C472.43 398.69 472.99 396.15 473.56 396.57 C474.12 396.99 474.69 398.40 475.25 400.80 C475.82 403.20 476.38 408.42 476.95 410.96 C477.51 413.50 478.07 416.89 478.64 416.04 C479.20 415.20 479.77 408.85 480.33 405.88 C480.90 402.92 481.55 399.90 482.03 398.26 C482.51 396.63 482.73 395.64 483.21 396.06 C483.69 396.48 484.34 397.75 484.91 400.80 C485.47 403.85 486.03 410.40 486.60 414.35 C487.16 418.30 487.73 421.69 488.29 424.51 C488.86 427.33 489.42 430.10 489.99 431.28 C490.55 432.47 491.11 431.68 491.68 431.62 C492.24 431.57 492.81 430.72 493.37 430.95 C493.94 431.17 494.50 432.36 495.07 432.98 C495.63 433.60 496.05 434.95 496.76 434.67 C497.46 434.39 498.59 431.28 499.30 431.28 C500.00 431.28 500.43 433.54 500.99 434.67 C501.56 435.80 502.12 436.95 502.69 438.06 C503.25 439.16 503.53 440.76 504.38 441.30 C505.23 441.84 506.50 441.30 507.77 441.30 C509.04 441.30 510.78 441.30 512.00 441.30 C513.22 441.30 514.23 442.12 515.08 441.30 C515.93 440.48 516.49 439.73 517.11 436.36 C517.73 433.00 518.24 426.20 518.81 421.12 C519.37 416.04 519.93 409.27 520.50 405.88 C521.06 402.50 521.63 400.80 522.19 400.80 C522.76 400.80 523.38 402.50 523.89 405.88 C524.39 409.27 524.79 416.61 525.24 421.12 C525.69 425.64 526.09 430.30 526.60 432.98 C527.10 435.66 527.72 437.49 528.29 437.21 C528.85 436.93 529.42 433.97 529.98 431.28 C530.55 428.60 531.05 423.81 531.68 421.12 C532.30 418.44 533.09 416.47 533.71 415.20 C534.33 413.93 534.84 413.64 535.40 413.50 C535.97 413.36 536.53 413.64 537.09 414.35 C537.66 415.06 538.22 416.04 538.79 417.74 C539.35 419.43 539.92 422.54 540.48 424.51 C541.05 426.49 541.67 428.52 542.18 429.59 C542.68 430.66 542.97 431.23 543.53 430.95 C544.09 430.66 544.94 429.53 545.56 427.90 C546.18 426.26 546.69 424.51 547.26 421.12 C547.82 417.74 548.44 411.81 548.95 407.58 C549.46 403.34 549.88 398.55 550.30 395.72 C550.73 392.90 551.09 391.77 551.49 390.64 C551.88 389.51 552.25 388.95 552.67 388.95 C553.10 388.95 553.58 390.36 554.03 390.64 C554.48 390.92 554.96 392.34 555.38 390.64 C555.81 388.95 556.15 383.30 556.57 380.48 C556.99 377.66 557.44 375.40 557.92 373.71 C558.40 372.01 558.97 372.01 559.45 370.32 C559.93 368.63 560.35 365.81 560.80 363.55 C561.25 361.29 561.71 358.47 562.16 356.77 C562.61 355.08 563.03 352.82 563.51 353.39 C563.99 353.95 564.50 358.04 565.04 360.16 C565.57 362.28 566.17 366.09 566.73 366.09 C567.29 366.09 567.94 362.00 568.42 360.16 C568.90 358.33 569.19 356.49 569.61 355.08 C570.03 353.67 570.68 352.77 570.96 351.69 C571.25 350.61 571.08 348.95 571.30 348.60 C571.53 348.25 571.95 348.82 572.32 349.61 C572.69 350.41 573.11 352.48 573.50 353.39 C573.90 354.30 574.27 355.36 574.69 355.08 C575.11 354.80 575.65 353.90 576.04 351.69 C576.44 349.48 576.72 343.95 577.06 341.82 C577.40 339.70 577.62 338.80 578.08 338.95 C578.53 339.09 579.32 341.06 579.77 342.67 C580.22 344.28 580.33 345.97 580.79 348.60 C581.24 351.23 581.91 355.98 582.48 358.47 C583.04 360.96 583.61 363.55 584.17 363.55 C584.74 363.55 585.39 360.16 585.87 358.47 C586.35 356.77 586.57 354.52 587.05 353.39 C587.53 352.26 588.18 351.41 588.74 351.69 C589.31 351.98 589.87 355.08 590.44 355.08 C591.00 355.08 591.57 352.54 592.13 351.69 C592.70 350.85 593.35 350.52 593.82 350.00 C594.30 349.48 594.59 348.69 595.01 348.60 C595.43 348.51 595.86 349.87 596.36 349.45 C596.87 349.02 597.49 347.33 598.06 346.06 C598.62 344.79 599.05 343.24 599.75 341.82 C600.46 340.41 601.59 339.14 602.29 337.59 C603.00 336.04 603.42 334.06 603.99 332.51 C604.55 330.96 605.11 329.18 605.68 328.28 C606.24 327.37 606.81 326.67 607.37 327.09 C607.94 327.52 608.59 328.79 609.07 330.82 C609.55 332.85 609.88 336.10 610.25 339.28 C610.62 342.47 610.90 346.76 611.27 349.95 C611.63 353.15 612.06 355.64 612.45 358.47 C612.85 361.30 613.21 365.66 613.64 366.93 C614.06 368.20 614.48 366.37 614.99 366.09 C615.50 365.81 616.12 364.82 616.69 365.24 C617.25 365.66 617.82 366.93 618.38 368.63 C618.94 370.32 619.56 372.86 620.07 375.40 C620.58 377.94 621.00 381.05 621.43 383.87 C621.85 386.69 622.33 389.51 622.61 392.34 C622.90 395.16 623.04 399.39 623.12 400.80" fill="none" stroke="#2b2b2b" stroke-width="1.4" stroke-linejoin="round" clip-path="url(#c3)"/><rect x="396.3" y="259.0" width="229.8" height="184.1" fill="none" stroke="#000" stroke-width="1.8"/><path d="M391.7 441.30H396.3M393.7 435.70H396.3M392.7 430.10H396.3M393.7 424.50H396.3M391.7 418.90H396.3M393.7 413.30H396.3M392.7 407.70H396.3M393.7 402.10H396.3M391.7 396.50H396.3M393.7 390.90H396.3M392.7 385.30H396.3M393.7 379.70H396.3M391.7 374.10H396.3M393.7 368.50H396.3M392.7 362.90H396.3M393.7 357.30H396.3M391.7 351.70H396.3M393.7 346.10H396.3M392.7 340.50H396.3M393.7 334.90H396.3M391.7 329.30H396.3M393.7 323.70H396.3M392.7 318.10H396.3M393.7 312.50H396.3M391.7 306.90H396.3M393.7 301.30H396.3M392.7 295.70H396.3M393.7 290.10H396.3M391.7 284.50H396.3M393.7 278.90H396.3M392.7 273.30H396.3M393.7 267.70H396.3M391.7 262.10H396.3M404.10 443.1V448.7M414.30 443.1V446.5M424.50 443.1V446.5M434.70 443.1V446.5M444.90 443.1V446.5M455.10 443.1V448.7M465.30 443.1V446.5M475.50 443.1V446.5M485.70 443.1V446.5M495.90 443.1V446.5M506.10 443.1V448.7M516.30 443.1V446.5M526.50 443.1V446.5M536.70 443.1V446.5M546.90 443.1V446.5M557.10 443.1V448.7M567.30 443.1V446.5M577.50 443.1V446.5M587.70 443.1V446.5M597.90 443.1V446.5M608.10 443.1V448.7M618.30 443.1V446.5" stroke="#222" stroke-width="1" fill="none"/><text x="384.1" y="446.1" font-size="12.3" text-anchor="middle">0</text><text x="384.1" y="423.7" font-size="12.3" text-anchor="middle">2</text><text x="384.1" y="401.3" font-size="12.3" text-anchor="middle">4</text><text x="384.1" y="378.9" font-size="12.3" text-anchor="middle">6</text><text x="384.1" y="356.5" font-size="12.3" text-anchor="middle">8</text><text x="382.7" y="334.1" font-size="12.3" text-anchor="middle">10</text><text x="382.7" y="311.7" font-size="12.3" text-anchor="middle">12</text><text x="382.7" y="289.3" font-size="12.3" text-anchor="middle">14</text><text x="382.7" y="266.9" font-size="12.3" text-anchor="middle">16</text><text x="403.4" y="460.6" font-size="12" text-anchor="middle">-15</text><text x="451.5" y="460.6" font-size="12" text-anchor="middle">-10</text><text x="503.2" y="460.6" font-size="12" text-anchor="middle">-5</text><text x="556.8" y="460.6" font-size="12" text-anchor="middle">0</text><text x="605.5" y="460.6" font-size="12" text-anchor="middle">5</text><text transform="translate(363.7 348.8) rotate(-90)" font-size="12.50" text-anchor="middle" dominant-baseline="central">Relative Intensity</text><text x="514.2" y="480.2" font-size="12" text-anchor="middle">Energy (<tspan font-style="italic">eV</tspan>)</text><text x="520.6" y="509.4" font-size="18" text-anchor="middle">PT3</text><path d="M626.9 265.0H630.8" stroke="#ff5a5a" stroke-width="1.7"/><path d="M626.9 278.8H630.8" stroke="#4aa84a" stroke-width="1.7"/><path d="M626.9 292.5H630.8" stroke="#444" stroke-width="1.7"/><text x="635.2" y="269.0" font-size="12.4"><tspan font-style="italic">&#960;</tspan>-spacer</text><text x="635.2" y="283.0" font-size="12.4">Acceptor</text><text x="638.0" y="297.0" font-size="12.4">Total</text></g>
<g><clipPath id="c4"><rect x="39.3" y="524.9" width="225.2" height="180.1"/></clipPath><path d="M41.54 686.82 C41.74 685.69 42.25 681.74 42.73 680.04 C43.21 678.35 43.85 676.80 44.42 676.66 C44.98 676.52 45.55 678.07 46.11 679.20 C46.68 680.33 47.24 681.88 47.81 683.43 C48.37 684.98 48.93 687.38 49.50 688.51 C50.06 689.64 50.63 690.49 51.19 690.20 C51.76 689.92 52.32 689.08 52.89 686.82 C53.45 684.56 54.07 681.17 54.58 676.66 C55.09 672.14 55.48 665.93 55.93 659.72 C56.39 653.51 56.87 645.33 57.29 639.40 C57.71 633.47 58.14 628.39 58.47 624.16 C58.81 619.93 59.12 616.44 59.32 614.00 C59.52 611.56 59.38 609.84 59.66 609.52 C59.94 609.19 60.65 610.99 61.01 612.06 C61.38 613.13 61.58 613.94 61.86 615.95 C62.14 617.97 62.28 620.82 62.71 624.16 C63.13 627.50 63.84 632.35 64.40 636.01 C64.97 639.68 65.67 644.06 66.09 646.18 C66.52 648.29 66.52 649.84 66.94 648.72 C67.36 647.59 68.07 642.93 68.64 639.40 C69.20 635.87 69.85 630.93 70.33 627.55 C70.81 624.16 71.23 621.34 71.51 619.08 C71.80 616.82 71.94 615.73 72.02 614.00 C72.11 612.27 71.74 610.97 72.02 608.67 C72.30 606.37 73.24 602.74 73.72 600.20 C74.20 597.66 74.53 594.90 74.90 593.43 C75.27 591.96 75.55 591.12 75.92 591.40 C76.28 591.68 76.76 592.81 77.10 595.12 C77.44 597.44 77.67 601.81 77.95 605.28 C78.23 608.76 78.57 611.68 78.80 615.95 C79.02 620.23 79.11 625.62 79.30 630.93 C79.50 636.25 79.70 643.35 79.98 647.87 C80.26 652.38 80.55 658.03 81.00 658.03 C81.45 658.03 82.13 651.26 82.69 647.87 C83.25 644.48 83.76 640.25 84.38 637.71 C85.00 635.17 85.65 633.90 86.42 632.63 C87.18 631.36 88.25 630.51 88.96 630.09 C89.66 629.66 90.09 629.66 90.65 630.09 C91.21 630.51 91.78 630.79 92.34 632.63 C92.91 634.46 93.47 637.99 94.04 641.09 C94.60 644.20 95.17 647.30 95.73 651.26 C96.29 655.21 96.86 660.29 97.42 664.80 C97.99 669.32 98.55 674.12 99.12 678.35 C99.68 682.58 100.25 687.52 100.81 690.20 C101.37 692.89 101.94 694.30 102.50 694.44 C103.07 694.58 103.63 692.32 104.20 691.05 C104.76 689.78 105.18 687.66 105.89 686.82 C106.60 685.97 107.58 686.25 108.43 685.97 C109.28 685.69 110.27 686.11 110.97 685.12 C111.68 684.14 112.18 682.30 112.66 680.04 C113.14 677.79 113.43 673.98 113.85 671.58 C114.27 669.18 114.81 666.78 115.20 665.65 C115.60 664.52 115.80 663.82 116.22 664.80 C116.64 665.79 117.29 668.75 117.74 671.58 C118.20 674.40 118.51 678.91 118.93 681.74 C119.35 684.56 119.78 688.23 120.28 688.51 C120.79 688.79 121.47 684.98 121.98 683.43 C122.49 681.88 122.82 679.20 123.33 679.20 C123.84 679.20 124.46 681.31 125.03 683.43 C125.59 685.55 126.10 689.36 126.72 691.90 C127.34 694.44 127.99 697.40 128.75 698.67 C129.51 699.94 130.45 699.38 131.29 699.52 C132.14 699.66 132.99 699.19 133.83 699.52 C134.68 699.85 135.38 701.17 136.37 701.50 C137.36 701.83 138.63 701.50 139.76 701.50 C140.89 701.50 142.02 701.50 143.15 701.50 C144.27 701.50 145.56 701.50 146.53 701.50 M149.00 701.50 M157.47 701.50 C159.22 700.46 158.88 698.01 159.50 695.28 C160.12 692.56 160.68 687.81 161.19 685.12 C161.70 682.44 162.10 680.61 162.55 679.20 C163.00 677.79 163.45 676.52 163.90 676.66 C164.35 676.80 164.81 677.79 165.26 680.04 C165.71 682.30 166.10 687.10 166.61 690.20 C167.12 693.31 167.71 696.79 168.31 698.67 C168.90 700.55 169.58 701.03 170.17 701.50 M171.86 701.50 C172.43 701.03 172.99 699.99 173.55 698.67 C174.12 697.35 174.60 695.85 175.25 693.59 C175.90 691.33 176.74 687.66 177.45 685.12 C178.16 682.58 178.86 680.04 179.48 678.35 C180.10 676.66 180.61 674.96 181.18 674.96 C181.74 674.96 182.30 676.66 182.87 678.35 C183.43 680.04 184.00 682.87 184.56 685.12 C185.13 687.38 185.63 691.62 186.26 691.90 C186.88 692.18 187.67 689.08 188.29 686.82 C188.91 684.56 189.42 680.61 189.98 678.35 C190.55 676.09 191.11 674.26 191.67 673.27 C192.24 672.28 192.80 672.14 193.37 672.42 C193.93 672.71 194.50 673.41 195.06 674.96 C195.63 676.52 196.19 679.48 196.75 681.74 C197.32 684.00 197.94 687.10 198.45 688.51 C198.96 689.92 199.29 690.77 199.80 690.20 C200.31 689.64 200.93 687.38 201.50 685.12 C202.06 682.87 202.63 679.06 203.19 676.66 C203.75 674.26 204.32 672.00 204.88 670.73 C205.45 669.46 206.01 669.18 206.58 669.04 C207.14 668.90 207.65 670.02 208.27 669.88 C208.89 669.74 209.74 667.91 210.30 668.19 C210.87 668.47 211.15 669.88 211.66 671.58 C212.16 673.27 212.79 676.52 213.35 678.35 C213.91 680.18 214.48 682.30 215.04 682.58 C215.61 682.87 216.17 681.03 216.74 680.04 C217.30 679.06 217.87 678.07 218.43 676.66 C219.00 675.25 219.50 674.12 220.12 671.58 C220.75 669.04 221.45 664.38 222.16 661.42 C222.86 658.45 223.71 654.36 224.36 653.80 C225.01 653.23 225.49 656.19 226.05 658.03 C226.62 659.86 227.26 663.25 227.74 664.80 C228.22 666.36 228.45 667.91 228.93 667.34 C229.41 666.78 230.06 663.39 230.62 661.42 C231.19 659.44 231.87 656.67 232.32 655.49 C232.77 654.30 232.88 653.88 233.33 654.30 C233.78 654.73 234.46 656.42 235.03 658.03 C235.59 659.64 236.16 663.67 236.72 663.96 C237.28 664.24 237.79 661.84 238.41 659.72 C239.03 657.61 239.77 654.08 240.45 651.26 C241.12 648.43 241.86 645.19 242.48 642.79 C243.10 640.39 243.66 637.43 244.17 636.86 C244.68 636.30 245.02 637.28 245.53 639.40 C246.03 641.52 246.65 645.61 247.22 649.56 C247.78 653.51 248.35 659.02 248.91 663.11 C249.48 667.20 250.04 673.83 250.61 674.12 C251.17 674.40 251.73 668.05 252.30 664.80 C252.86 661.56 253.37 657.32 253.99 654.64 C254.61 651.96 255.32 649.42 256.02 648.72 C256.73 648.01 257.66 649.70 258.23 650.41 C258.79 651.11 259.04 651.11 259.41 652.95 C259.78 654.78 260.06 656.90 260.43 661.42 C260.79 665.93 261.42 676.94 261.61 680.04" fill="none" stroke="#33a033" stroke-width="1.4" stroke-linejoin="round" clip-path="url(#c4)"/><path d="M41.54 673.27 C41.74 673.41 42.30 673.27 42.73 674.12 C43.15 674.96 43.57 676.80 44.08 678.35 C44.59 679.90 45.07 682.02 45.77 683.43 C46.48 684.84 47.52 685.97 48.31 686.82 C49.10 687.66 49.81 689.36 50.52 688.51 C51.22 687.66 51.93 684.84 52.55 681.74 C53.17 678.63 53.68 673.55 54.24 669.88 C54.81 666.21 55.31 662.40 55.93 659.72 C56.56 657.04 57.35 654.08 57.97 653.80 C58.59 653.51 59.10 655.63 59.66 658.03 C60.22 660.43 60.79 665.65 61.35 668.19 C61.92 670.73 62.54 672.08 63.05 673.27 C63.55 674.46 63.89 675.87 64.40 675.30 C64.91 674.74 65.53 672.20 66.09 669.88 C66.66 667.57 67.22 664.24 67.79 661.42 C68.35 658.59 68.78 655.35 69.48 652.95 C70.19 650.55 71.18 648.29 72.02 647.02 C72.87 645.75 73.72 645.81 74.56 645.33 C75.41 644.85 76.31 643.44 77.10 644.14 C77.89 644.85 78.65 648.94 79.30 649.56 C79.95 650.18 80.43 649.28 81.00 647.87 C81.56 646.46 82.21 642.51 82.69 641.09 C83.17 639.68 83.40 638.55 83.88 639.40 C84.36 640.25 85.00 643.64 85.57 646.18 C86.13 648.72 86.61 651.96 87.26 654.64 C87.91 657.32 88.82 660.71 89.46 662.26 C90.11 663.82 90.59 664.66 91.16 663.96 C91.72 663.25 92.29 660.43 92.85 658.03 C93.42 655.63 93.98 652.10 94.54 649.56 C95.11 647.02 95.76 644.48 96.24 642.79 C96.72 641.09 97.03 639.40 97.42 639.40 C97.82 639.40 98.19 640.53 98.61 642.79 C99.03 645.05 99.51 649.00 99.96 652.95 C100.42 656.90 100.81 662.55 101.32 666.50 C101.83 670.45 102.39 674.68 103.01 676.66 C103.63 678.63 104.42 678.63 105.04 678.35 C105.66 678.07 106.17 676.09 106.74 674.96 C107.30 673.83 107.87 672.42 108.43 671.58 C109.00 670.73 109.56 669.32 110.12 669.88 C110.69 670.45 111.25 672.42 111.82 674.96 C112.38 677.50 112.95 682.02 113.51 685.12 C114.08 688.23 114.64 691.90 115.20 693.59 C115.77 695.28 116.19 695.28 116.90 695.28 C117.60 695.28 118.65 694.72 119.44 693.59 C120.23 692.46 120.93 690.49 121.64 688.51 C122.35 686.54 123.05 684.28 123.67 681.74 C124.29 679.20 124.86 674.96 125.36 673.27 C125.87 671.58 126.30 671.01 126.72 671.58 C127.14 672.14 127.51 674.40 127.91 676.66 C128.30 678.91 128.67 682.58 129.09 685.12 C129.51 687.66 129.99 690.26 130.45 691.90 C130.90 693.53 131.29 694.44 131.80 694.95 C132.31 695.45 132.87 694.89 133.49 694.95 C134.11 695.00 134.90 695.00 135.53 695.28 C136.15 695.57 136.65 696.36 137.22 696.64 C137.78 696.92 138.35 697.35 138.91 696.98 C139.48 696.61 140.18 695.14 140.61 694.44 C141.03 693.73 141.03 692.32 141.45 692.74 C141.88 693.17 142.58 695.85 143.15 696.98 C143.71 698.11 144.13 698.76 144.84 699.52 C145.55 700.27 146.39 701.17 147.38 701.50 M150.77 701.50 M157.47 701.50 C158.92 701.03 158.79 699.99 159.50 698.67 C160.20 697.35 160.97 694.86 161.70 693.59 C162.43 692.32 163.25 690.91 163.90 691.05 C164.55 691.19 165.03 693.17 165.60 694.44 C166.16 695.71 166.67 697.49 167.29 698.67 C167.91 699.85 168.70 701.03 169.32 701.50 M171.01 701.50 C171.64 700.75 172.34 698.16 173.05 696.98 C173.75 695.80 174.51 695.00 175.25 694.44 C175.98 693.87 176.74 693.51 177.45 693.59 C178.16 693.68 178.72 694.52 179.48 694.95 C180.24 695.37 181.32 695.85 182.02 696.13 C182.73 696.41 183.07 697.06 183.72 696.64 C184.36 696.22 185.21 694.52 185.92 693.59 C186.62 692.66 187.19 692.32 187.95 691.05 C188.71 689.78 189.70 687.24 190.49 685.97 C191.28 684.70 191.98 684.14 192.69 683.43 C193.40 682.73 194.10 682.58 194.72 681.74 C195.34 680.89 195.80 680.04 196.42 678.35 C197.04 676.66 197.74 673.69 198.45 671.58 C199.15 669.46 199.92 667.06 200.65 665.65 C201.38 664.24 202.20 663.25 202.85 663.11 C203.50 662.97 203.98 665.09 204.54 664.80 C205.11 664.52 205.67 662.97 206.24 661.42 C206.80 659.86 207.45 656.90 207.93 655.49 C208.41 654.08 208.72 652.81 209.12 652.95 C209.51 653.09 209.82 654.08 210.30 656.34 C210.78 658.59 211.43 663.53 212.00 666.50 C212.56 669.46 213.24 672.71 213.69 674.12 C214.14 675.53 214.25 676.52 214.71 674.96 C215.16 673.41 215.83 668.47 216.40 664.80 C216.96 661.13 217.53 655.91 218.09 652.95 C218.66 649.99 219.22 648.29 219.79 647.02 C220.35 645.75 220.86 645.75 221.48 645.33 C222.10 644.91 222.89 645.47 223.51 644.48 C224.13 643.49 224.70 641.09 225.20 639.40 C225.71 637.71 226.14 635.79 226.56 634.32 C226.98 632.85 227.26 630.88 227.74 630.60 C228.22 630.31 228.87 631.44 229.44 632.63 C230.00 633.81 230.57 635.73 231.13 637.71 C231.70 639.68 232.26 642.22 232.82 644.48 C233.39 646.74 233.95 649.56 234.52 651.26 C235.08 652.95 235.65 654.50 236.21 654.64 C236.78 654.78 237.34 652.95 237.91 652.10 C238.47 651.26 239.03 650.83 239.60 649.56 C240.16 648.29 240.73 646.18 241.29 644.48 C241.86 642.79 242.42 640.81 242.99 639.40 C243.55 637.99 244.11 636.01 244.68 636.01 C245.24 636.01 245.81 637.71 246.37 639.40 C246.94 641.09 247.50 643.35 248.07 646.18 C248.63 649.00 249.19 653.23 249.76 656.34 C250.32 659.44 250.97 662.83 251.45 664.80 C251.93 666.78 252.16 668.47 252.64 668.19 C253.12 667.91 253.77 664.52 254.33 663.11 C254.90 661.70 255.46 660.43 256.02 659.72 C256.59 659.02 257.15 658.73 257.72 658.88 C258.28 659.02 258.96 659.58 259.41 660.57 C259.86 661.56 260.06 662.97 260.43 664.80 C260.79 666.64 261.42 670.45 261.61 671.58" fill="none" stroke="#ff2a2a" stroke-width="1.4" stroke-linejoin="round" clip-path="url(#c4)"/><path d="M41.54 659.72 C41.74 658.73 42.30 655.15 42.73 653.80 C43.15 652.44 43.57 651.17 44.08 651.59 C44.59 652.02 45.21 654.13 45.77 656.34 C46.34 658.54 46.90 662.12 47.47 664.80 C48.03 667.48 48.65 670.73 49.16 672.42 C49.67 674.12 50.01 675.39 50.52 674.96 C51.02 674.54 51.64 672.71 52.21 669.88 C52.77 667.06 53.42 662.83 53.90 658.03 C54.38 653.23 54.75 647.02 55.09 641.09 C55.43 635.17 55.79 626.66 55.93 622.47 C56.08 618.28 55.79 620.51 55.93 615.95 C56.08 611.40 56.50 601.98 56.78 595.12 C57.06 588.27 57.20 580.31 57.63 574.80 C58.05 569.30 58.81 563.51 59.32 562.10 C59.83 560.69 60.25 563.37 60.68 566.34 C61.10 569.30 61.38 574.80 61.86 579.88 C62.34 584.96 62.99 592.02 63.55 596.82 C64.12 601.62 64.82 605.99 65.25 608.67 C65.67 611.35 65.73 612.91 66.09 612.91 C66.46 612.91 67.03 611.64 67.45 608.67 C67.87 605.71 68.24 600.20 68.64 595.12 C69.03 590.04 69.40 583.55 69.82 578.19 C70.24 572.83 70.72 567.18 71.18 562.95 C71.63 558.72 72.02 556.18 72.53 552.79 C73.04 549.40 73.66 545.73 74.22 542.63 C74.79 539.52 75.35 534.44 75.92 534.16 C76.48 533.88 77.13 536.98 77.61 540.93 C78.09 544.89 78.46 550.81 78.80 557.87 C79.13 564.92 79.36 575.65 79.64 583.27 C79.92 590.89 80.15 601.05 80.49 603.59 C80.83 606.13 81.25 601.62 81.67 598.51 C82.10 595.41 82.46 589.25 83.03 584.96 C83.59 580.67 84.50 574.18 85.06 572.77 C85.63 571.36 85.91 574.46 86.42 576.50 C86.92 578.53 87.55 582.71 88.11 584.96 C88.67 587.22 89.18 588.63 89.80 590.04 C90.42 591.45 91.13 592.30 91.84 593.43 C92.54 594.56 93.39 595.83 94.04 596.82 C94.69 597.81 95.17 598.65 95.73 599.36 C96.29 600.06 97.00 600.06 97.42 601.05 C97.85 602.04 97.99 602.80 98.27 605.28 C98.55 607.77 98.95 612.81 99.12 615.95 C99.29 619.10 99.15 620.25 99.29 624.16 C99.43 628.07 99.71 634.60 99.96 639.40 C100.22 644.20 100.47 648.72 100.81 652.95 C101.15 657.18 101.57 662.12 102.00 664.80 C102.42 667.48 102.84 669.04 103.35 669.04 C103.86 669.04 104.48 666.64 105.04 664.80 C105.61 662.97 106.17 659.86 106.74 658.03 C107.30 656.19 107.87 654.78 108.43 653.80 C109.00 652.81 109.56 651.68 110.12 652.10 C110.69 652.53 111.25 655.07 111.82 656.34 C112.38 657.61 112.95 659.58 113.51 659.72 C114.08 659.86 114.64 656.62 115.20 657.18 C115.77 657.75 116.33 660.43 116.90 663.11 C117.46 665.79 118.08 670.59 118.59 673.27 C119.10 675.95 119.44 679.48 119.95 679.20 C120.45 678.91 121.02 674.82 121.64 671.58 C122.26 668.33 123.05 662.26 123.67 659.72 C124.29 657.18 124.80 656.05 125.36 656.34 C125.93 656.62 126.55 658.59 127.06 661.42 C127.57 664.24 127.99 669.32 128.41 673.27 C128.84 677.22 129.12 681.88 129.60 685.12 C130.08 688.37 130.64 691.62 131.29 692.74 C131.94 693.87 132.84 691.76 133.49 691.90 C134.14 692.04 134.62 693.17 135.19 693.59 C135.75 694.01 136.26 694.44 136.88 694.44 C137.50 694.44 138.24 694.01 138.91 693.59 C139.59 693.17 140.32 691.62 140.94 691.90 C141.57 692.18 142.07 694.01 142.64 695.28 C143.20 696.55 143.68 698.48 144.33 699.52 C144.98 700.55 145.46 701.17 146.53 701.50 C147.61 701.83 149.36 701.50 150.77 701.50 C152.18 701.50 153.88 701.50 155.00 701.50 C156.12 701.50 156.72 702.25 157.47 701.50 C158.22 700.75 158.88 699.71 159.50 696.98 C160.12 694.25 160.68 689.36 161.19 685.12 C161.70 680.89 162.10 674.82 162.55 671.58 C163.00 668.33 163.45 665.93 163.90 665.65 C164.35 665.37 164.81 666.64 165.26 669.88 C165.71 673.13 166.16 680.61 166.61 685.12 C167.06 689.64 167.46 694.25 167.97 696.98 C168.47 699.71 169.10 700.75 169.66 701.50 C170.22 702.25 170.79 702.54 171.35 701.50 C171.92 700.46 172.40 697.73 173.05 695.28 C173.70 692.84 174.51 689.64 175.25 686.82 C175.98 684.00 176.74 680.89 177.45 678.35 C178.16 675.81 178.80 673.21 179.48 671.58 C180.16 669.94 180.95 668.25 181.51 668.53 C182.08 668.81 182.36 671.07 182.87 673.27 C183.38 675.47 184.00 679.76 184.56 681.74 C185.13 683.71 185.69 685.69 186.26 685.12 C186.82 684.56 187.38 681.74 187.95 678.35 C188.51 674.96 189.13 668.19 189.64 664.80 C190.15 661.42 190.43 659.78 191.00 658.03 C191.56 656.28 192.41 654.73 193.03 654.30 C193.65 653.88 194.16 654.87 194.72 655.49 C195.29 656.11 195.85 657.46 196.42 658.03 C196.98 658.59 197.60 659.72 198.11 658.88 C198.62 658.03 198.96 655.35 199.46 652.95 C199.97 650.55 200.59 647.02 201.16 644.48 C201.72 641.94 202.29 639.40 202.85 637.71 C203.42 636.01 203.92 635.45 204.54 634.32 C205.17 633.19 206.01 632.63 206.58 630.93 C207.14 629.24 207.42 626.00 207.93 624.16 C208.44 622.33 209.06 619.93 209.62 619.93 C210.19 619.93 210.84 621.76 211.32 624.16 C211.80 626.56 212.11 630.65 212.50 634.32 C212.90 637.99 213.27 643.07 213.69 646.18 C214.11 649.28 214.59 653.23 215.04 652.95 C215.50 652.67 215.98 647.59 216.40 644.48 C216.82 641.38 217.19 637.71 217.58 634.32 C217.98 630.93 218.40 626.98 218.77 624.16 C219.14 621.34 219.50 618.94 219.79 617.39 C220.07 615.83 220.27 616.30 220.46 614.85 C220.66 613.39 220.60 610.83 220.97 608.67 C221.34 606.51 222.10 604.16 222.66 601.90 C223.23 599.64 223.85 597.04 224.36 595.12 C224.87 593.20 225.23 590.38 225.71 590.38 C226.19 590.38 226.76 594.05 227.24 595.12 C227.72 596.20 228.14 596.96 228.59 596.82 C229.04 596.68 229.49 595.12 229.95 594.28 C230.40 593.43 230.82 591.31 231.30 591.74 C231.78 592.16 232.29 594.00 232.82 596.82 C233.36 599.64 234.04 605.71 234.52 608.67 C235.00 611.64 235.28 614.03 235.70 614.60 C236.13 615.16 236.55 614.18 237.06 612.06 C237.57 609.94 238.19 605.28 238.75 601.90 C239.32 598.51 239.88 595.41 240.45 591.74 C241.01 588.07 241.52 583.21 242.14 579.88 C242.76 576.55 243.55 572.04 244.17 571.75 C244.79 571.47 245.36 574.29 245.86 578.19 C246.37 582.08 246.77 590.04 247.22 595.12 C247.67 600.20 248.15 605.20 248.57 608.67 C249.00 612.14 249.42 612.81 249.76 615.95 C250.10 619.10 250.32 624.20 250.61 627.55 C250.89 630.89 251.11 635.45 251.45 636.01 C251.79 636.58 252.21 633.47 252.64 630.93 C253.06 628.39 253.60 623.45 253.99 620.77 C254.39 618.09 254.73 617.29 255.01 614.85 C255.29 612.41 255.29 607.44 255.69 606.13 C256.08 604.82 256.87 606.55 257.38 606.98 C257.89 607.40 258.31 607.54 258.73 608.67 C259.16 609.80 259.58 612.54 259.92 613.75 C260.26 614.97 260.51 613.09 260.77 615.95 C261.02 618.82 261.27 625.62 261.44 630.93 C261.61 636.25 261.67 643.35 261.78 647.87 C261.90 652.38 262.06 656.34 262.12 658.03" fill="none" stroke="#2b2b2b" stroke-width="1.4" stroke-linejoin="round" clip-path="url(#c4)"/><rect x="39.3" y="524.9" width="225.2" height="180.1" fill="none" stroke="#000" stroke-width="1.8"/><path d="M34.7 701.50H39.3M36.7 696.03H39.3M35.7 690.57H39.3M36.7 685.11H39.3M34.7 679.64H39.3M36.7 674.17H39.3M35.7 668.71H39.3M36.7 663.25H39.3M34.7 657.78H39.3M36.7 652.32H39.3M35.7 646.85H39.3M36.7 641.38H39.3M34.7 635.92H39.3M36.7 630.46H39.3M35.7 624.99H39.3M36.7 619.52H39.3M34.7 614.06H39.3M36.7 608.60H39.3M35.7 603.13H39.3M36.7 597.66H39.3M34.7 592.20H39.3M36.7 586.74H39.3M35.7 581.27H39.3M36.7 575.81H39.3M34.7 570.34H39.3M36.7 564.88H39.3M35.7 559.41H39.3M36.7 553.94H39.3M34.7 548.48H39.3M36.7 543.01H39.3M35.7 537.55H39.3M36.7 532.09H39.3M34.7 526.62H39.3M47.10 705.0V710.6M57.06 705.0V708.4M67.02 705.0V708.4M76.98 705.0V708.4M86.94 705.0V708.4M96.90 705.0V710.6M106.86 705.0V708.4M116.82 705.0V708.4M126.78 705.0V708.4M136.74 705.0V708.4M146.70 705.0V710.6M156.66 705.0V708.4M166.62 705.0V708.4M176.58 705.0V708.4M186.54 705.0V708.4M196.50 705.0V710.6M206.46 705.0V708.4M216.42 705.0V708.4M226.38 705.0V708.4M236.34 705.0V708.4M246.30 705.0V710.6M256.26 705.0V708.4" stroke="#222" stroke-width="1" fill="none"/><text x="27.3" y="706.2" font-size="12.3" text-anchor="middle">0</text><text x="27.3" y="684.3" font-size="12.3" text-anchor="middle">2</text><text x="27.3" y="662.5" font-size="12.3" text-anchor="middle">4</text><text x="27.3" y="640.6" font-size="12.3" text-anchor="middle">6</text><text x="27.3" y="618.8" font-size="12.3" text-anchor="middle">8</text><text x="25.9" y="596.9" font-size="12.3" text-anchor="middle">10</text><text x="25.9" y="575.0" font-size="12.3" text-anchor="middle">12</text><text x="25.9" y="553.2" font-size="12.3" text-anchor="middle">14</text><text x="25.9" y="531.3" font-size="12.3" text-anchor="middle">16</text><text x="50.8" y="722.4" font-size="12" text-anchor="middle">-15</text><text x="93.9" y="722.4" font-size="12" text-anchor="middle">-10</text><text x="144.4" y="722.4" font-size="12" text-anchor="middle">-5</text><text x="197.1" y="722.4" font-size="12" text-anchor="middle">0</text><text x="244.6" y="722.4" font-size="12" text-anchor="middle">5</text><text transform="translate(7.8 612.5) rotate(-90)" font-size="12.20" text-anchor="middle" dominant-baseline="central">Relative Intensity</text><text x="154.8" y="741.7" font-size="12" text-anchor="middle">Energy (<tspan font-style="italic">eV</tspan>)</text><text x="160.8" y="774.6" font-size="18" text-anchor="middle">PT4</text><path d="M266.5 530.3H268.0" stroke="#ff5a5a" stroke-width="1.7"/><path d="M266.5 543.4H268.0" stroke="#4aa84a" stroke-width="1.7"/><path d="M266.5 556.8H268.0" stroke="#444" stroke-width="1.7"/><text x="273.5" y="534.5" font-size="12.2"><tspan font-style="italic">&#960;</tspan>-spacer</text><text x="273.5" y="548.0" font-size="12.2">Acceptor</text><text x="276.5" y="561.5" font-size="12.2">Total</text></g>
<g><clipPath id="c5"><rect x="392.4" y="526.2" width="233.6" height="187.6"/></clipPath><path d="M395.10 673.12 C395.30 670.25 395.82 660.49 396.31 655.90 C396.79 651.30 397.54 647.57 398.03 645.56 C398.52 643.55 398.75 642.12 399.24 643.84 C399.72 645.56 400.38 650.73 400.96 655.90 C401.53 661.07 402.11 669.39 402.68 674.85 C403.25 680.30 403.83 687.19 404.40 688.63 C404.98 690.06 405.47 686.04 406.13 683.46 C406.79 680.88 407.70 676.57 408.36 673.12 C409.03 669.68 409.51 665.80 410.09 662.79 C410.66 659.77 411.24 656.47 411.81 655.04 C412.38 653.60 412.87 654.46 413.53 654.18 C414.19 653.89 415.11 653.03 415.77 653.31 C416.43 653.60 416.92 653.74 417.49 655.90 C418.07 658.05 418.64 662.93 419.22 666.23 C419.79 669.54 420.31 675.71 420.94 675.71 C421.57 675.71 422.32 670.40 423.01 666.23 C423.70 662.07 424.36 654.46 425.07 650.73 C425.79 647.00 426.65 644.56 427.31 643.84 C427.97 643.12 428.38 644.41 429.04 646.42 C429.70 648.43 430.56 652.02 431.28 655.90 C431.99 659.77 432.65 665.14 433.34 669.68 C434.03 674.22 434.78 683.12 435.41 683.12 C436.04 683.12 436.62 674.79 437.13 669.68 C437.65 664.57 438.05 658.19 438.51 652.45 C438.97 646.71 439.46 640.11 439.89 635.23 C440.32 630.35 440.75 626.75 441.09 623.17 C441.44 619.58 441.58 614.43 441.96 613.72 C442.33 613.00 442.90 616.45 443.33 618.88 C443.76 621.32 444.14 625.04 444.54 628.34 C444.94 631.63 445.37 636.37 445.75 638.67 C446.12 640.97 446.41 641.83 446.78 642.12 C447.15 642.40 447.50 640.97 447.99 640.39 C448.47 639.82 449.13 639.53 449.71 638.67 C450.28 637.81 450.94 636.66 451.43 635.23 C451.92 633.79 452.21 632.36 452.64 630.06 C453.07 627.76 453.64 625.46 454.01 621.45 C454.39 617.43 454.45 610.55 454.88 605.96 C455.31 601.37 456.08 597.01 456.60 593.91 C457.12 590.80 457.49 587.36 457.98 587.36 C458.46 587.36 459.10 590.80 459.53 593.91 C459.96 597.01 460.22 601.63 460.56 605.96 C460.91 610.30 461.39 616.19 461.59 619.92 C461.80 623.65 461.59 624.35 461.77 628.34 C461.94 632.32 462.25 638.38 462.63 643.84 C463.00 649.29 463.58 655.90 464.01 661.07 C464.44 666.23 464.81 671.11 465.21 674.85 C465.61 678.58 465.99 681.74 466.42 683.46 C466.85 685.18 467.34 686.62 467.80 685.18 C468.25 683.75 468.83 678.58 469.17 674.85 C469.52 671.11 469.58 665.52 469.86 662.79 C470.15 660.06 470.52 657.91 470.90 658.48 C471.27 659.06 471.70 662.93 472.10 666.23 C472.50 669.54 472.88 674.56 473.31 678.29 C473.74 682.02 474.23 686.47 474.69 688.63 C475.15 690.78 475.63 691.50 476.06 691.21 C476.49 690.92 476.87 688.48 477.27 686.91 C477.67 685.33 478.13 682.89 478.48 681.74 C478.82 680.59 478.96 679.44 479.34 680.01 C479.71 680.59 480.34 682.89 480.72 685.18 C481.09 687.48 481.20 690.92 481.58 693.80 C481.95 696.67 482.44 700.11 482.95 702.41 C483.47 704.71 484.05 706.57 484.68 707.58 C485.31 708.58 485.97 708.38 486.74 708.44 C487.52 708.50 488.47 707.92 489.33 707.92 C490.19 707.92 490.91 708.21 491.91 708.44 C492.92 708.67 494.21 708.87 495.36 709.30 C496.51 709.73 497.65 710.72 498.80 711.00 C499.95 711.28 500.55 711.00 502.25 711.00 M509.00 711.00 M515.03 711.00 C516.32 709.28 516.18 705.85 516.75 700.69 C517.33 695.52 517.99 685.18 518.47 680.01 C518.96 674.85 519.25 671.83 519.68 669.68 C520.11 667.53 520.60 666.81 521.06 667.09 C521.52 667.38 521.92 669.54 522.44 671.40 C522.95 673.27 523.58 676.28 524.16 678.29 C524.73 680.30 525.31 681.88 525.88 683.46 C526.46 685.04 527.03 686.91 527.60 687.77 C528.18 688.63 528.75 687.91 529.33 688.63 C529.90 689.35 530.48 691.21 531.05 692.07 C531.62 692.93 532.14 692.36 532.77 693.80 C533.40 695.23 534.21 699.11 534.84 700.69 C535.47 702.27 535.99 703.27 536.56 703.27 C537.14 703.27 537.77 702.55 538.28 700.69 C538.80 698.82 539.15 695.23 539.66 692.07 C540.18 688.91 540.75 684.18 541.39 681.74 C542.02 679.30 542.82 678.29 543.45 677.43 C544.08 676.57 544.60 676.57 545.18 676.57 C545.75 676.57 546.27 678.58 546.90 677.43 C547.53 676.28 548.25 671.55 548.96 669.68 C549.68 667.81 550.63 666.75 551.20 666.23 C551.78 665.72 551.98 666.00 552.41 666.58 C552.84 667.15 553.33 668.01 553.79 669.68 C554.25 671.34 554.65 673.70 555.17 676.57 C555.68 679.44 556.26 683.60 556.89 686.91 C557.52 690.21 558.32 695.52 558.96 696.38 C559.59 697.24 560.10 695.09 560.68 692.07 C561.25 689.06 561.83 682.45 562.40 678.29 C562.98 674.13 563.55 669.62 564.12 667.09 C564.70 664.57 565.27 663.85 565.85 663.13 C566.42 662.42 566.94 662.99 567.57 662.79 C568.20 662.59 568.92 662.50 569.64 661.93 C570.35 661.35 571.22 659.49 571.88 659.34 C572.54 659.20 573.02 659.92 573.60 661.07 C574.17 662.21 574.66 663.94 575.32 666.23 C575.98 668.53 576.84 672.84 577.56 674.85 C578.28 676.86 579.00 678.58 579.63 678.29 C580.26 678.00 580.72 675.42 581.35 673.12 C581.98 670.83 582.70 666.87 583.42 664.51 C584.14 662.16 585.00 659.29 585.66 659.00 C586.32 658.71 586.81 661.30 587.38 662.79 C587.95 664.28 588.53 667.38 589.10 667.96 C589.68 668.53 590.16 666.95 590.82 666.23 C591.49 665.52 592.40 663.08 593.06 663.65 C593.72 664.22 594.21 667.53 594.79 669.68 C595.36 671.83 595.94 676.28 596.51 676.57 C597.08 676.86 597.66 673.70 598.23 671.40 C598.81 669.10 599.32 664.80 599.95 662.79 C600.59 660.78 601.33 660.20 602.02 659.34 C602.71 658.48 603.51 659.34 604.09 657.62 C604.66 655.90 604.95 651.88 605.47 649.01 C605.98 646.14 606.76 642.06 607.19 640.39 C607.62 638.73 607.71 638.44 608.05 639.02 C608.40 639.59 608.83 641.03 609.26 643.84 C609.69 646.65 610.12 651.88 610.64 655.90 C611.15 659.92 611.73 664.80 612.36 667.96 C612.99 671.11 613.85 673.27 614.42 674.85 C615.00 676.43 615.29 677.14 615.80 677.43 C616.32 677.72 616.95 676.57 617.53 676.57 C618.10 676.57 618.67 678.58 619.25 677.43 C619.82 676.28 620.40 672.12 620.97 669.68 C621.55 667.24 622.41 663.94 622.69 662.79" fill="none" stroke="#33a033" stroke-width="1.4" stroke-linejoin="round" clip-path="url(#c5)"/><path d="M395.10 678.29 C395.30 678.15 395.82 677.14 396.31 677.43 C396.79 677.72 397.45 678.87 398.03 680.01 C398.60 681.16 399.18 683.03 399.75 684.32 C400.33 685.61 400.81 686.47 401.47 687.77 C402.13 689.06 403.00 691.93 403.71 692.07 C404.43 692.22 405.15 690.64 405.78 688.63 C406.41 686.62 406.93 683.46 407.50 680.01 C408.08 676.57 408.65 672.26 409.23 667.96 C409.80 663.65 410.37 657.91 410.95 654.18 C411.52 650.44 412.10 646.14 412.67 645.56 C413.25 644.99 413.82 648.15 414.39 650.73 C414.97 653.31 415.54 657.62 416.12 661.07 C416.69 664.51 417.27 669.10 417.84 671.40 C418.41 673.70 418.99 675.42 419.56 674.85 C420.14 674.27 420.71 671.11 421.28 667.96 C421.86 664.80 422.38 660.20 423.01 655.90 C423.64 651.59 424.36 645.56 425.07 642.12 C425.79 638.67 426.51 636.66 427.31 635.23 C428.12 633.79 429.12 633.79 429.90 633.50 C430.67 633.22 431.33 632.93 431.96 633.50 C432.60 634.08 433.17 635.94 433.69 636.95 C434.20 637.95 434.61 639.82 435.07 639.53 C435.53 639.25 435.93 637.09 436.44 635.23 C436.96 633.36 437.68 630.20 438.17 628.34 C438.65 626.47 438.88 623.45 439.37 624.03 C439.86 624.60 440.52 628.77 441.09 631.78 C441.67 634.80 442.24 638.67 442.82 642.12 C443.39 645.56 443.88 649.52 444.54 652.45 C445.20 655.38 446.12 659.69 446.78 659.69 C447.44 659.69 447.93 655.67 448.50 652.45 C449.08 649.24 449.65 644.13 450.22 640.39 C450.80 636.66 451.46 632.50 451.95 630.06 C452.44 627.62 452.67 625.18 453.15 625.75 C453.64 626.33 454.39 630.20 454.88 633.50 C455.36 636.81 455.65 640.97 456.08 645.56 C456.51 650.16 456.94 656.18 457.46 661.07 C457.98 665.95 458.61 672.12 459.18 674.85 C459.76 677.57 460.33 677.72 460.91 677.43 C461.48 677.14 462.05 674.99 462.63 673.12 C463.20 671.26 463.83 667.90 464.35 666.23 C464.87 664.57 465.21 662.56 465.73 663.13 C466.25 663.71 466.88 666.29 467.45 669.68 C468.03 673.07 468.60 679.15 469.17 683.46 C469.75 687.77 470.32 692.36 470.90 695.52 C471.47 698.68 472.04 701.26 472.62 702.41 C473.19 703.56 473.71 702.70 474.34 702.41 C474.97 702.12 475.72 701.55 476.41 700.69 C477.10 699.82 477.84 699.25 478.48 697.24 C479.11 695.23 479.74 692.07 480.20 688.63 C480.66 685.18 480.86 679.73 481.23 676.57 C481.61 673.41 482.04 669.68 482.44 669.68 C482.84 669.68 483.21 673.41 483.64 676.57 C484.07 679.73 484.56 685.18 485.02 688.63 C485.48 692.07 485.88 695.23 486.40 697.24 C486.92 699.25 487.49 700.26 488.12 700.69 C488.75 701.12 489.56 699.54 490.19 699.82 C490.82 700.11 491.28 701.69 491.91 702.41 C492.54 703.13 493.26 704.42 493.98 704.13 C494.70 703.84 495.56 701.60 496.22 700.69 C496.88 699.77 497.37 698.48 497.94 698.62 C498.52 698.76 499.09 700.34 499.66 701.55 C500.24 702.75 500.67 704.28 501.39 705.85 C502.10 707.43 502.97 710.14 503.97 711.00 M507.42 711.00 M509.00 711.00 M515.03 711.00 C516.32 710.14 516.18 707.57 516.75 705.85 C517.33 704.14 517.81 701.98 518.47 700.69 C519.13 699.39 520.05 698.10 520.71 698.10 C521.37 698.10 521.80 699.68 522.44 700.69 C523.07 701.69 523.73 703.27 524.50 704.13 C525.28 704.99 526.28 705.34 527.09 705.85 C527.89 706.37 528.61 707.38 529.33 707.23 C530.04 707.09 530.71 705.80 531.39 704.99 C532.08 704.19 532.74 703.18 533.46 702.41 C534.18 701.63 535.04 700.40 535.70 700.34 C536.36 700.28 536.76 701.72 537.42 702.06 C538.08 702.41 538.95 702.35 539.66 702.41 C540.38 702.47 540.95 702.55 541.73 702.41 C542.51 702.27 543.60 702.12 544.31 701.55 C545.03 700.97 545.32 700.26 546.04 698.96 C546.75 697.67 547.85 695.66 548.62 693.80 C549.40 691.93 549.97 689.20 550.69 687.77 C551.41 686.33 552.27 686.19 552.93 685.18 C553.59 684.18 554.08 683.46 554.65 681.74 C555.22 680.01 555.71 677.14 556.37 674.85 C557.03 672.55 557.89 670.25 558.61 667.96 C559.33 665.66 560.05 662.64 560.68 661.07 C561.31 659.49 561.83 658.34 562.40 658.48 C562.98 658.63 563.55 661.78 564.12 661.93 C564.70 662.07 565.27 661.21 565.85 659.34 C566.42 657.48 566.94 653.37 567.57 650.73 C568.20 648.09 569.00 643.78 569.64 643.49 C570.27 643.21 570.84 646.08 571.36 649.01 C571.88 651.94 572.36 657.62 572.74 661.07 C573.11 664.51 573.31 667.38 573.60 669.68 C573.89 671.98 574.09 675.13 574.46 674.85 C574.83 674.56 575.41 671.11 575.84 667.96 C576.27 664.80 576.56 660.49 577.04 655.90 C577.53 651.30 578.19 643.98 578.77 640.39 C579.34 636.81 579.91 635.23 580.49 634.36 C581.06 633.50 581.64 635.66 582.21 635.23 C582.79 634.80 583.45 633.50 583.93 631.78 C584.42 630.06 584.77 627.19 585.14 624.89 C585.51 622.59 585.89 619.72 586.17 618.00 C586.46 616.28 586.52 615.49 586.86 614.58 C587.21 613.66 587.78 612.37 588.24 612.51 C588.70 612.65 589.33 614.52 589.62 615.44 C589.91 616.35 589.62 616.42 589.96 618.00 C590.31 619.58 591.11 622.31 591.69 624.89 C592.26 627.47 592.83 630.63 593.41 633.50 C593.98 636.37 594.56 640.11 595.13 642.12 C595.71 644.13 596.28 645.71 596.85 645.56 C597.43 645.42 598.00 642.55 598.58 641.26 C599.15 639.96 599.73 638.67 600.30 637.81 C600.87 636.95 601.45 637.38 602.02 636.09 C602.60 634.80 603.23 632.21 603.74 630.06 C604.26 627.91 604.69 625.09 605.12 623.17 C605.55 621.25 605.98 619.11 606.33 618.54 C606.67 617.96 606.82 618.09 607.19 619.72 C607.56 621.36 608.05 624.89 608.57 628.34 C609.08 631.78 609.72 635.80 610.29 640.39 C610.86 644.99 611.44 651.59 612.01 655.90 C612.59 660.20 613.16 665.66 613.74 666.23 C614.31 666.81 614.88 661.50 615.46 659.34 C616.03 657.19 616.69 654.61 617.18 653.31 C617.67 652.02 617.90 651.45 618.39 651.59 C618.87 651.73 619.62 652.88 620.11 654.18 C620.60 655.47 620.94 657.33 621.32 659.34 C621.69 661.35 622.03 663.94 622.35 666.23 C622.66 668.53 623.07 671.98 623.21 673.12" fill="none" stroke="#ff2a2a" stroke-width="1.4" stroke-linejoin="round" clip-path="url(#c5)"/><path d="M395.10 649.01 C395.22 646.71 395.50 639.25 395.79 635.23 C396.08 631.21 396.42 627.82 396.82 624.89 C397.23 621.97 397.80 619.17 398.20 617.68 C398.60 616.19 398.83 615.90 399.24 615.95 C399.64 616.01 400.38 616.25 400.61 618.02 C400.84 619.80 400.33 622.31 400.61 626.61 C400.90 630.92 401.82 638.10 402.34 643.84 C402.85 649.58 403.28 656.82 403.71 661.07 C404.14 665.31 404.43 669.33 404.92 669.33 C405.41 669.33 406.07 665.31 406.64 661.07 C407.22 656.82 407.79 649.58 408.36 643.84 C408.94 638.10 409.60 633.50 410.09 626.61 C410.58 619.73 410.81 608.89 411.29 602.52 C411.78 596.15 412.44 589.83 413.02 588.39 C413.59 586.96 414.22 590.98 414.74 593.91 C415.26 596.83 415.66 601.94 416.12 605.96 C416.58 609.98 416.98 614.29 417.49 618.02 C418.01 621.75 418.73 625.76 419.22 628.34 C419.71 630.92 420.02 633.79 420.42 633.50 C420.83 633.22 421.31 630.05 421.63 626.61 C421.95 623.17 422.09 617.73 422.32 612.85 C422.55 607.98 422.61 603.38 423.01 597.35 C423.41 591.32 424.01 581.85 424.73 576.68 C425.45 571.51 426.51 567.49 427.31 566.34 C428.12 565.19 428.84 567.49 429.55 569.79 C430.27 572.09 430.99 575.53 431.62 580.12 C432.25 584.72 432.77 592.18 433.34 597.35 C433.92 602.52 434.55 611.13 435.07 611.13 C435.58 611.13 436.01 603.09 436.44 597.35 C436.87 591.61 437.16 584.43 437.65 576.68 C438.14 568.93 438.80 557.44 439.37 550.84 C439.95 544.24 440.52 538.21 441.09 537.06 C441.67 535.91 442.33 540.22 442.82 543.95 C443.31 547.68 443.65 554.00 444.02 559.45 C444.40 564.91 444.68 571.51 445.06 576.68 C445.43 581.85 445.77 590.46 446.26 590.46 C446.75 590.46 447.41 581.85 447.99 576.68 C448.56 571.51 449.05 564.91 449.71 559.45 C450.37 554.00 451.17 547.54 451.95 543.95 C452.72 540.36 453.58 538.35 454.36 537.92 C455.13 537.49 455.94 539.21 456.60 541.36 C457.26 543.52 457.83 546.39 458.32 550.84 C458.81 555.29 459.15 562.32 459.53 568.07 C459.90 573.81 460.19 579.55 460.56 585.29 C460.93 591.03 461.42 596.75 461.77 602.52 C462.11 608.29 462.34 616.19 462.63 619.92 C462.91 623.65 463.20 623.20 463.49 624.89 C463.78 626.58 463.98 628.34 464.35 630.06 C464.72 631.78 465.15 633.22 465.73 635.23 C466.30 637.24 467.11 640.39 467.80 642.12 C468.48 643.84 469.29 644.41 469.86 645.56 C470.44 646.71 470.87 647.00 471.24 649.01 C471.61 651.02 471.76 654.46 472.10 657.62 C472.45 660.78 472.82 664.37 473.31 667.96 C473.80 671.55 474.46 678.29 475.03 679.15 C475.60 680.01 476.18 675.85 476.75 673.12 C477.33 670.40 477.96 665.37 478.48 662.79 C478.99 660.20 479.39 658.71 479.85 657.62 C480.31 656.53 480.72 655.67 481.23 656.24 C481.75 656.82 482.47 658.25 482.95 661.07 C483.44 663.88 483.76 668.82 484.16 673.12 C484.56 677.43 484.94 683.17 485.37 686.91 C485.80 690.64 486.23 693.51 486.74 695.52 C487.26 697.53 487.84 698.68 488.47 698.96 C489.10 699.25 489.90 697.10 490.53 697.24 C491.17 697.38 491.68 698.96 492.26 699.82 C492.83 700.69 493.41 702.27 493.98 702.41 C494.55 702.55 495.04 701.49 495.70 700.69 C496.36 699.88 497.28 697.59 497.94 697.59 C498.60 697.59 499.09 699.31 499.66 700.69 C500.24 702.06 500.81 704.14 501.39 705.85 C501.96 707.57 502.39 710.14 503.11 711.00 C503.83 711.86 504.55 711.00 505.69 711.00 C506.84 711.00 508.44 711.00 510.00 711.00 C511.56 711.00 513.90 712.14 515.03 711.00 C516.15 709.86 516.18 708.15 516.75 704.13 C517.33 700.12 517.99 694.08 518.47 686.91 C518.96 679.73 519.25 666.52 519.68 661.07 C520.11 655.61 520.60 654.18 521.06 654.18 C521.52 654.18 522.01 658.48 522.44 661.07 C522.87 663.65 523.15 667.09 523.64 669.68 C524.13 672.26 524.79 674.56 525.36 676.57 C525.94 678.58 526.51 680.30 527.09 681.74 C527.66 683.17 528.24 685.47 528.81 685.18 C529.38 684.90 530.04 681.16 530.53 680.01 C531.02 678.87 531.31 678.00 531.74 678.29 C532.17 678.58 532.60 680.30 533.12 681.74 C533.63 683.17 534.27 685.18 534.84 686.91 C535.41 688.63 536.05 690.78 536.56 692.07 C537.08 693.36 537.51 694.94 537.94 694.66 C538.37 694.37 538.74 692.50 539.15 690.35 C539.55 688.20 539.92 684.61 540.35 681.74 C540.78 678.87 541.21 675.28 541.73 673.12 C542.25 670.97 542.88 669.68 543.45 668.82 C544.03 667.96 544.66 668.24 545.18 667.96 C545.69 667.67 546.04 668.53 546.55 667.09 C547.07 665.66 547.70 662.36 548.28 659.34 C548.85 656.33 549.42 651.88 550.00 649.01 C550.57 646.14 551.23 643.55 551.72 642.12 C552.21 640.68 552.44 640.11 552.93 640.39 C553.42 640.68 554.08 642.12 554.65 643.84 C555.22 645.56 555.80 648.86 556.37 650.73 C556.95 652.60 557.52 655.61 558.09 655.04 C558.67 654.46 559.24 650.59 559.82 647.28 C560.39 643.98 561.05 638.67 561.54 635.23 C562.03 631.78 562.37 629.20 562.75 626.61 C563.12 624.03 563.41 621.73 563.78 619.72 C564.15 617.72 564.50 616.30 564.99 614.58 C565.47 612.86 566.13 611.71 566.71 609.41 C567.28 607.11 567.86 603.32 568.43 600.80 C569.00 598.27 569.67 594.54 570.15 594.25 C570.64 593.96 570.99 596.26 571.36 599.07 C571.73 601.89 572.02 607.97 572.39 611.13 C572.77 614.29 573.25 615.73 573.60 618.02 C573.94 620.32 574.17 623.46 574.46 624.89 C574.75 626.32 575.03 627.19 575.32 626.61 C575.61 626.04 575.92 623.45 576.18 621.45 C576.44 619.44 576.58 616.87 576.87 614.58 C577.16 612.28 577.50 609.64 577.91 607.69 C578.31 605.73 578.77 604.01 579.28 602.86 C579.80 601.71 580.43 601.57 581.01 600.80 C581.58 600.02 582.24 599.93 582.73 598.21 C583.22 596.49 583.53 594.05 583.93 590.46 C584.34 586.87 584.71 580.70 585.14 576.68 C585.57 572.66 586.15 568.30 586.52 566.34 C586.89 564.39 587.04 564.39 587.38 564.96 C587.72 565.54 588.15 568.41 588.59 569.79 C589.02 571.17 589.45 572.52 589.96 573.23 C590.48 573.95 591.17 573.52 591.69 574.09 C592.20 574.67 592.63 574.24 593.06 576.68 C593.49 579.12 593.87 584.43 594.27 588.74 C594.67 593.04 595.05 598.84 595.48 602.52 C595.91 606.19 596.39 610.79 596.85 610.79 C597.31 610.79 597.80 605.33 598.23 602.52 C598.66 599.70 598.95 596.20 599.44 593.91 C599.93 591.61 600.59 590.75 601.16 588.74 C601.73 586.73 602.40 584.72 602.88 581.85 C603.37 578.98 603.66 575.82 604.09 571.51 C604.52 567.20 605.01 559.88 605.47 556.01 C605.93 552.13 606.41 548.83 606.85 548.26 C607.28 547.68 607.65 549.26 608.05 552.56 C608.45 555.86 608.88 562.61 609.26 568.07 C609.63 573.52 609.92 579.55 610.29 585.29 C610.66 591.03 611.15 596.75 611.50 602.52 C611.84 608.29 612.07 615.90 612.36 619.92 C612.64 623.93 612.87 624.49 613.22 626.61 C613.56 628.73 613.99 632.36 614.42 632.64 C614.86 632.93 615.40 630.06 615.80 628.34 C616.20 626.61 616.55 624.31 616.84 622.31 C617.12 620.30 617.27 617.01 617.53 616.30 C617.78 615.59 618.04 618.17 618.39 618.02 C618.73 617.88 619.16 616.16 619.59 615.44 C620.02 614.72 620.60 613.57 620.97 613.72 C621.34 613.86 621.55 615.27 621.83 616.30 C622.12 617.33 622.46 619.06 622.69 619.92 C622.92 620.77 623.04 620.76 623.21 621.45 C623.38 622.13 623.64 623.60 623.73 624.03" fill="none" stroke="#2b2b2b" stroke-width="1.4" stroke-linejoin="round" clip-path="url(#c5)"/><rect x="392.4" y="526.2" width="233.6" height="187.6" fill="none" stroke="#000" stroke-width="1.8"/><path d="M387.8 711.00H392.4M389.8 703.50H392.4M388.8 696.00H392.4M389.8 688.50H392.4M387.8 681.00H392.4M389.8 673.50H392.4M388.8 666.00H392.4M389.8 658.50H392.4M387.8 651.00H392.4M389.8 643.50H392.4M388.8 636.00H392.4M389.8 628.50H392.4M387.8 621.00H392.4M389.8 613.50H392.4M388.8 606.00H392.4M389.8 598.50H392.4M387.8 591.00H392.4M389.8 583.50H392.4M388.8 576.00H392.4M389.8 568.50H392.4M387.8 561.00H392.4M389.8 553.50H392.4M388.8 546.00H392.4M389.8 538.50H392.4M387.8 531.00H392.4M401.35 713.8V719.4M411.68 713.8V717.2M422.01 713.8V717.2M432.34 713.8V717.2M442.67 713.8V717.2M453.00 713.8V719.4M463.33 713.8V717.2M473.66 713.8V717.2M483.99 713.8V717.2M494.32 713.8V717.2M504.65 713.8V719.4M514.98 713.8V717.2M525.31 713.8V717.2M535.64 713.8V717.2M545.97 713.8V717.2M556.30 713.8V719.4M566.63 713.8V717.2M576.96 713.8V717.2M587.29 713.8V717.2M597.62 713.8V717.2M607.95 713.8V719.4M618.28 713.8V717.2" stroke="#222" stroke-width="1" fill="none"/><text x="380.8" y="715.7" font-size="12.3" text-anchor="middle">0</text><text x="380.8" y="685.7" font-size="12.3" text-anchor="middle">2</text><text x="380.8" y="655.7" font-size="12.3" text-anchor="middle">4</text><text x="380.8" y="625.7" font-size="12.3" text-anchor="middle">6</text><text x="380.8" y="595.7" font-size="12.3" text-anchor="middle">8</text><text x="379.4" y="565.7" font-size="12.3" text-anchor="middle">10</text><text x="379.4" y="535.7" font-size="12.3" text-anchor="middle">12</text><text x="400.6" y="730.4" font-size="12" text-anchor="middle">-15</text><text x="451.2" y="730.4" font-size="12" text-anchor="middle">-10</text><text x="503.2" y="730.4" font-size="12" text-anchor="middle">-5</text><text x="556.3" y="730.4" font-size="12" text-anchor="middle">0</text><text x="607.9" y="730.4" font-size="12" text-anchor="middle">5</text><text transform="translate(359.6 617.1) rotate(-90)" font-size="12.85" text-anchor="middle" dominant-baseline="central">Relative Intensity</text><text x="512.2" y="750.9" font-size="12" text-anchor="middle">Energy (<tspan font-style="italic">eV</tspan>)</text><text x="520.6" y="775.0" font-size="18" text-anchor="middle">PT5</text><path d="M626.8 533.8H631.5" stroke="#ff5a5a" stroke-width="1.7"/><path d="M626.8 548.8H631.5" stroke="#4aa84a" stroke-width="1.7"/><path d="M626.8 563.4H631.5" stroke="#444" stroke-width="1.7"/><text x="635.2" y="536.4" font-size="13"><tspan font-style="italic">&#960;</tspan>-spacer</text><text x="635.2" y="549.9" font-size="13">Acceptor</text><text x="637.1" y="563.6" font-size="13">Total</text></g>
</svg></div></body></html>
